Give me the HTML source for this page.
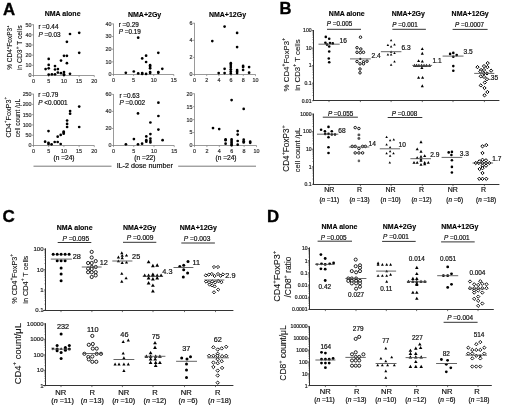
<!DOCTYPE html>
<html><head><meta charset="utf-8"><style>
html,body{margin:0;padding:0;background:#fff;width:520px;height:410px;overflow:hidden}
svg{display:block;will-change:transform;filter:blur(0.35px)}
text{font-family:"Liberation Sans", sans-serif}
</style></head><body>
<svg width="520" height="410" viewBox="0 0 520 410" font-family="Liberation Sans, sans-serif">
<rect width="520" height="410" fill="#fff"/>
<text x="3" y="14.65" font-size="16.8" text-anchor="start" fill="#000" font-weight="bold" stroke="#000" stroke-width="0.35"><tspan>A</tspan></text>
<text x="279.6" y="14.28" font-size="16.6" text-anchor="start" fill="#000" font-weight="bold" stroke="#000" stroke-width="0.35"><tspan>B</tspan></text>
<text x="2.6" y="222.22" font-size="17" text-anchor="start" fill="#000" font-weight="bold" stroke="#000" stroke-width="0.35"><tspan>C</tspan></text>
<text x="267" y="222.25" font-size="16.8" text-anchor="start" fill="#000" font-weight="bold" stroke="#000" stroke-width="0.35"><tspan>D</tspan></text>
<text x="62.6" y="16.42" font-size="7" text-anchor="middle" fill="#000" font-weight="bold" stroke="#000" stroke-width="0.12"><tspan>NMA alone</tspan></text>
<text x="144.6" y="17.12" font-size="7" text-anchor="middle" fill="#000" font-weight="bold" stroke="#000" stroke-width="0.12"><tspan>NMA+2Gy</tspan></text>
<text x="227.5" y="16.82" font-size="7" text-anchor="middle" fill="#000" font-weight="bold" stroke="#000" stroke-width="0.12"><tspan>NMA+12Gy</tspan></text>
<text transform="translate(12.24 47.6) rotate(-90)" x="0" y="0" font-size="6.5" text-anchor="middle" fill="#111" stroke="#111" stroke-width="0.1"><tspan>% CD4</tspan><tspan font-size="4.29" baseline-shift="3.25">+</tspan><tspan>FoxP3</tspan><tspan font-size="4.29" baseline-shift="3.25">+</tspan></text>
<text transform="translate(22.05 47.8) rotate(-90)" x="0" y="0" font-size="6.8" text-anchor="middle" fill="#111" stroke="#111" stroke-width="0.1"><tspan>in CD3</tspan><tspan font-size="4.49" baseline-shift="3.4">+</tspan><tspan> T cells</tspan></text>
<text transform="translate(11.39 117.2) rotate(-90)" x="0" y="0" font-size="7.2" text-anchor="middle" fill="#111" stroke="#111" stroke-width="0.1"><tspan>CD4</tspan><tspan font-size="4.75" baseline-shift="3.6">+</tspan><tspan>FoxP3</tspan><tspan font-size="4.75" baseline-shift="3.6">+</tspan></text>
<text transform="translate(20.04 118) rotate(-90)" x="0" y="0" font-size="6.5" text-anchor="middle" fill="#111" stroke="#111" stroke-width="0.1"><tspan>cell count /μL</tspan></text>
<line x1="33.5" y1="24.3" x2="33.5" y2="76" stroke="#808080" stroke-width="0.8"/>
<line x1="31.9" y1="75.5" x2="33.5" y2="75.5" stroke="#808080" stroke-width="0.7"/>
<text x="31.55" y="77.43" font-size="5.35" text-anchor="end" fill="#333" stroke="#333" stroke-width="0.2"><tspan>0</tspan></text>
<line x1="31.9" y1="65.34" x2="33.5" y2="65.34" stroke="#808080" stroke-width="0.7"/>
<text x="31.55" y="67.27" font-size="5.35" text-anchor="end" fill="#333" stroke="#333" stroke-width="0.2"><tspan>10</tspan></text>
<line x1="31.9" y1="55.18" x2="33.5" y2="55.18" stroke="#808080" stroke-width="0.7"/>
<text x="31.55" y="57.11" font-size="5.35" text-anchor="end" fill="#333" stroke="#333" stroke-width="0.2"><tspan>20</tspan></text>
<line x1="31.9" y1="45.02" x2="33.5" y2="45.02" stroke="#808080" stroke-width="0.7"/>
<text x="31.55" y="46.95" font-size="5.35" text-anchor="end" fill="#333" stroke="#333" stroke-width="0.2"><tspan>30</tspan></text>
<line x1="31.9" y1="34.86" x2="33.5" y2="34.86" stroke="#808080" stroke-width="0.7"/>
<text x="31.55" y="36.79" font-size="5.35" text-anchor="end" fill="#333" stroke="#333" stroke-width="0.2"><tspan>40</tspan></text>
<line x1="31.9" y1="24.7" x2="33.5" y2="24.7" stroke="#808080" stroke-width="0.7"/>
<text x="31.55" y="26.63" font-size="5.35" text-anchor="end" fill="#333" stroke="#333" stroke-width="0.2"><tspan>50</tspan></text>
<line x1="33.1" y1="75.5" x2="94.3" y2="75.5" stroke="#808080" stroke-width="0.8"/>
<line x1="33.5" y1="75.5" x2="33.5" y2="77.1" stroke="#808080" stroke-width="0.7"/>
<text x="33.5" y="82.63" font-size="5.35" text-anchor="middle" fill="#333" stroke="#333" stroke-width="0.2"><tspan>0</tspan></text>
<line x1="48.7" y1="75.5" x2="48.7" y2="77.1" stroke="#808080" stroke-width="0.7"/>
<text x="48.7" y="82.63" font-size="5.35" text-anchor="middle" fill="#333" stroke="#333" stroke-width="0.2"><tspan>5</tspan></text>
<line x1="63.9" y1="75.5" x2="63.9" y2="77.1" stroke="#808080" stroke-width="0.7"/>
<text x="63.9" y="82.63" font-size="5.35" text-anchor="middle" fill="#333" stroke="#333" stroke-width="0.2"><tspan>10</tspan></text>
<line x1="79.1" y1="75.5" x2="79.1" y2="77.1" stroke="#808080" stroke-width="0.7"/>
<text x="79.1" y="82.63" font-size="5.35" text-anchor="middle" fill="#333" stroke="#333" stroke-width="0.2"><tspan>15</tspan></text>
<line x1="94.3" y1="75.5" x2="94.3" y2="77.1" stroke="#808080" stroke-width="0.7"/>
<text x="94.3" y="82.63" font-size="5.35" text-anchor="middle" fill="#333" stroke="#333" stroke-width="0.2"><tspan>20</tspan></text>
<text x="38.4" y="29.3" font-size="6.4" text-anchor="start" fill="#111" stroke="#111" stroke-width="0.2"><tspan>r =0.44</tspan></text>
<text x="38.4" y="36.7" font-size="6.4" text-anchor="start" fill="#111" stroke="#111" stroke-width="0.2"><tspan font-style="italic">P</tspan><tspan> =0.03</tspan></text>
<circle cx="45.6" cy="69.1" r="1.35" fill="#000"/>
<circle cx="48.7" cy="58.9" r="1.35" fill="#000"/>
<circle cx="48.7" cy="64.9" r="1.35" fill="#000"/>
<circle cx="48.7" cy="68.3" r="1.35" fill="#000"/>
<circle cx="48.7" cy="74.6" r="1.35" fill="#000"/>
<circle cx="51.9" cy="74.3" r="1.35" fill="#000"/>
<circle cx="55" cy="66.1" r="1.35" fill="#000"/>
<circle cx="55" cy="69.5" r="1.35" fill="#000"/>
<circle cx="55" cy="74.3" r="1.35" fill="#000"/>
<circle cx="57.9" cy="69.1" r="1.35" fill="#000"/>
<circle cx="57.9" cy="72.6" r="1.35" fill="#000"/>
<circle cx="61" cy="60.6" r="1.35" fill="#000"/>
<circle cx="61" cy="73.2" r="1.35" fill="#000"/>
<circle cx="64" cy="55.8" r="1.35" fill="#000"/>
<circle cx="64" cy="72" r="1.35" fill="#000"/>
<circle cx="64" cy="74.3" r="1.35" fill="#000"/>
<circle cx="64" cy="75" r="1.35" fill="#000"/>
<circle cx="66.9" cy="41.8" r="1.35" fill="#000"/>
<circle cx="66.9" cy="55.8" r="1.35" fill="#000"/>
<circle cx="66.9" cy="63.2" r="1.35" fill="#000"/>
<circle cx="70" cy="34" r="1.35" fill="#000"/>
<circle cx="70" cy="73.8" r="1.35" fill="#000"/>
<circle cx="79.2" cy="32.8" r="1.35" fill="#000"/>
<circle cx="79.2" cy="52.8" r="1.35" fill="#000"/>
<line x1="113.5" y1="23.6" x2="113.5" y2="75" stroke="#808080" stroke-width="0.8"/>
<line x1="111.9" y1="74.5" x2="113.5" y2="74.5" stroke="#808080" stroke-width="0.7"/>
<text x="111.55" y="76.43" font-size="5.35" text-anchor="end" fill="#333" stroke="#333" stroke-width="0.2"><tspan>0</tspan></text>
<line x1="111.9" y1="61.85" x2="113.5" y2="61.85" stroke="#808080" stroke-width="0.7"/>
<text x="111.55" y="63.78" font-size="5.35" text-anchor="end" fill="#333" stroke="#333" stroke-width="0.2"><tspan>10</tspan></text>
<line x1="111.9" y1="49.2" x2="113.5" y2="49.2" stroke="#808080" stroke-width="0.7"/>
<text x="111.55" y="51.13" font-size="5.35" text-anchor="end" fill="#333" stroke="#333" stroke-width="0.2"><tspan>20</tspan></text>
<line x1="111.9" y1="36.55" x2="113.5" y2="36.55" stroke="#808080" stroke-width="0.7"/>
<text x="111.55" y="38.48" font-size="5.35" text-anchor="end" fill="#333" stroke="#333" stroke-width="0.2"><tspan>30</tspan></text>
<line x1="111.9" y1="23.9" x2="113.5" y2="23.9" stroke="#808080" stroke-width="0.7"/>
<text x="111.55" y="25.83" font-size="5.35" text-anchor="end" fill="#333" stroke="#333" stroke-width="0.2"><tspan>40</tspan></text>
<line x1="113.1" y1="74.5" x2="173.9" y2="74.5" stroke="#808080" stroke-width="0.8"/>
<line x1="113.5" y1="74.5" x2="113.5" y2="76.1" stroke="#808080" stroke-width="0.7"/>
<text x="113.5" y="81.63" font-size="5.35" text-anchor="middle" fill="#333" stroke="#333" stroke-width="0.2"><tspan>0</tspan></text>
<line x1="133.6" y1="74.5" x2="133.6" y2="76.1" stroke="#808080" stroke-width="0.7"/>
<text x="133.6" y="81.63" font-size="5.35" text-anchor="middle" fill="#333" stroke="#333" stroke-width="0.2"><tspan>5</tspan></text>
<line x1="153.7" y1="74.5" x2="153.7" y2="76.1" stroke="#808080" stroke-width="0.7"/>
<text x="153.7" y="81.63" font-size="5.35" text-anchor="middle" fill="#333" stroke="#333" stroke-width="0.2"><tspan>10</tspan></text>
<line x1="173.8" y1="74.5" x2="173.8" y2="76.1" stroke="#808080" stroke-width="0.7"/>
<text x="173.8" y="81.63" font-size="5.35" text-anchor="middle" fill="#333" stroke="#333" stroke-width="0.2"><tspan>15</tspan></text>
<text x="118.7" y="26.7" font-size="6.4" text-anchor="start" fill="#111" stroke="#111" stroke-width="0.2"><tspan>r =0.29</tspan></text>
<text x="118.7" y="34.2" font-size="6.4" text-anchor="start" fill="#111" stroke="#111" stroke-width="0.2"><tspan font-style="italic">P</tspan><tspan> =0.19</tspan></text>
<circle cx="125.8" cy="72.8" r="1.35" fill="#000"/>
<circle cx="133.8" cy="71.5" r="1.35" fill="#000"/>
<circle cx="138.2" cy="37.7" r="1.35" fill="#000"/>
<circle cx="138.2" cy="73.4" r="1.35" fill="#000"/>
<circle cx="142.2" cy="58.4" r="1.35" fill="#000"/>
<circle cx="142.2" cy="73.1" r="1.35" fill="#000"/>
<circle cx="142.2" cy="73.9" r="1.35" fill="#000"/>
<circle cx="146.1" cy="55.7" r="1.35" fill="#000"/>
<circle cx="146.1" cy="62" r="1.35" fill="#000"/>
<circle cx="146.1" cy="73.9" r="1.35" fill="#000"/>
<circle cx="150.1" cy="65.2" r="1.35" fill="#000"/>
<circle cx="150.1" cy="66.8" r="1.35" fill="#000"/>
<circle cx="150.1" cy="68.3" r="1.35" fill="#000"/>
<circle cx="150.1" cy="72" r="1.35" fill="#000"/>
<circle cx="150.1" cy="73.1" r="1.35" fill="#000"/>
<circle cx="158.3" cy="52.8" r="1.35" fill="#000"/>
<circle cx="158.3" cy="72" r="1.35" fill="#000"/>
<circle cx="158.3" cy="72.8" r="1.35" fill="#000"/>
<circle cx="162.3" cy="68.8" r="1.35" fill="#000"/>
<line x1="194.5" y1="22.9" x2="194.5" y2="75" stroke="#808080" stroke-width="0.8"/>
<line x1="192.9" y1="74.5" x2="194.5" y2="74.5" stroke="#808080" stroke-width="0.7"/>
<text x="192.55" y="76.43" font-size="5.35" text-anchor="end" fill="#333" stroke="#333" stroke-width="0.2"><tspan>0</tspan></text>
<line x1="192.9" y1="57.4" x2="194.5" y2="57.4" stroke="#808080" stroke-width="0.7"/>
<text x="192.55" y="59.33" font-size="5.35" text-anchor="end" fill="#333" stroke="#333" stroke-width="0.2"><tspan>2</tspan></text>
<line x1="192.9" y1="40.3" x2="194.5" y2="40.3" stroke="#808080" stroke-width="0.7"/>
<text x="192.55" y="42.23" font-size="5.35" text-anchor="end" fill="#333" stroke="#333" stroke-width="0.2"><tspan>4</tspan></text>
<line x1="192.9" y1="23.2" x2="194.5" y2="23.2" stroke="#808080" stroke-width="0.7"/>
<text x="192.55" y="25.13" font-size="5.35" text-anchor="end" fill="#333" stroke="#333" stroke-width="0.2"><tspan>6</tspan></text>
<line x1="194.1" y1="74.5" x2="255.7" y2="74.5" stroke="#808080" stroke-width="0.8"/>
<line x1="194.5" y1="74.5" x2="194.5" y2="76.1" stroke="#808080" stroke-width="0.7"/>
<text x="194.5" y="81.63" font-size="5.35" text-anchor="middle" fill="#333" stroke="#333" stroke-width="0.2"><tspan>0</tspan></text>
<line x1="206.7" y1="74.5" x2="206.7" y2="76.1" stroke="#808080" stroke-width="0.7"/>
<text x="206.7" y="81.63" font-size="5.35" text-anchor="middle" fill="#333" stroke="#333" stroke-width="0.2"><tspan>2</tspan></text>
<line x1="218.9" y1="74.5" x2="218.9" y2="76.1" stroke="#808080" stroke-width="0.7"/>
<text x="218.9" y="81.63" font-size="5.35" text-anchor="middle" fill="#333" stroke="#333" stroke-width="0.2"><tspan>4</tspan></text>
<line x1="231.1" y1="74.5" x2="231.1" y2="76.1" stroke="#808080" stroke-width="0.7"/>
<text x="231.1" y="81.63" font-size="5.35" text-anchor="middle" fill="#333" stroke="#333" stroke-width="0.2"><tspan>6</tspan></text>
<line x1="243.3" y1="74.5" x2="243.3" y2="76.1" stroke="#808080" stroke-width="0.7"/>
<text x="243.3" y="81.63" font-size="5.35" text-anchor="middle" fill="#333" stroke="#333" stroke-width="0.2"><tspan>8</tspan></text>
<line x1="255.5" y1="74.5" x2="255.5" y2="76.1" stroke="#808080" stroke-width="0.7"/>
<text x="255.5" y="81.63" font-size="5.35" text-anchor="middle" fill="#333" stroke="#333" stroke-width="0.2"><tspan>10</tspan></text>
<circle cx="212.3" cy="41.1" r="1.35" fill="#000"/>
<circle cx="218.7" cy="73.1" r="1.35" fill="#000"/>
<circle cx="224.6" cy="26.6" r="1.35" fill="#000"/>
<circle cx="224.6" cy="68.8" r="1.35" fill="#000"/>
<circle cx="224.6" cy="73.1" r="1.35" fill="#000"/>
<circle cx="230.8" cy="63.2" r="1.35" fill="#000"/>
<circle cx="230.8" cy="64.9" r="1.35" fill="#000"/>
<circle cx="230.8" cy="67.1" r="1.35" fill="#000"/>
<circle cx="230.8" cy="69.3" r="1.35" fill="#000"/>
<circle cx="230.8" cy="71.4" r="1.35" fill="#000"/>
<circle cx="230.8" cy="73.4" r="1.35" fill="#000"/>
<circle cx="237.1" cy="32.9" r="1.35" fill="#000"/>
<circle cx="237.1" cy="47.1" r="1.35" fill="#000"/>
<circle cx="237.1" cy="70" r="1.35" fill="#000"/>
<circle cx="237.1" cy="71.4" r="1.35" fill="#000"/>
<circle cx="237.1" cy="73.1" r="1.35" fill="#000"/>
<circle cx="243.1" cy="65.9" r="1.35" fill="#000"/>
<circle cx="243.1" cy="67.1" r="1.35" fill="#000"/>
<circle cx="243.1" cy="70" r="1.35" fill="#000"/>
<circle cx="249.1" cy="67.1" r="1.35" fill="#000"/>
<circle cx="249.1" cy="72.7" r="1.35" fill="#000"/>
<line x1="33.5" y1="93.8" x2="33.5" y2="146" stroke="#808080" stroke-width="0.8"/>
<line x1="31.9" y1="145.5" x2="33.5" y2="145.5" stroke="#808080" stroke-width="0.7"/>
<text x="31.55" y="147.43" font-size="5.35" text-anchor="end" fill="#333" stroke="#333" stroke-width="0.2"><tspan>0</tspan></text>
<line x1="31.9" y1="135.22" x2="33.5" y2="135.22" stroke="#808080" stroke-width="0.7"/>
<text x="31.55" y="137.15" font-size="5.35" text-anchor="end" fill="#333" stroke="#333" stroke-width="0.2"><tspan>50</tspan></text>
<line x1="31.9" y1="124.94" x2="33.5" y2="124.94" stroke="#808080" stroke-width="0.7"/>
<text x="31.55" y="126.87" font-size="5.35" text-anchor="end" fill="#333" stroke="#333" stroke-width="0.2"><tspan>100</tspan></text>
<line x1="31.9" y1="114.66" x2="33.5" y2="114.66" stroke="#808080" stroke-width="0.7"/>
<text x="31.55" y="116.59" font-size="5.35" text-anchor="end" fill="#333" stroke="#333" stroke-width="0.2"><tspan>150</tspan></text>
<line x1="31.9" y1="104.38" x2="33.5" y2="104.38" stroke="#808080" stroke-width="0.7"/>
<text x="31.55" y="106.31" font-size="5.35" text-anchor="end" fill="#333" stroke="#333" stroke-width="0.2"><tspan>200</tspan></text>
<line x1="31.9" y1="94.1" x2="33.5" y2="94.1" stroke="#808080" stroke-width="0.7"/>
<text x="31.55" y="96.03" font-size="5.35" text-anchor="end" fill="#333" stroke="#333" stroke-width="0.2"><tspan>250</tspan></text>
<line x1="33.1" y1="145.5" x2="94.3" y2="145.5" stroke="#808080" stroke-width="0.8"/>
<line x1="33.5" y1="145.5" x2="33.5" y2="147.1" stroke="#808080" stroke-width="0.7"/>
<text x="33.5" y="152.63" font-size="5.35" text-anchor="middle" fill="#333" stroke="#333" stroke-width="0.2"><tspan>0</tspan></text>
<line x1="48.7" y1="145.5" x2="48.7" y2="147.1" stroke="#808080" stroke-width="0.7"/>
<text x="48.7" y="152.63" font-size="5.35" text-anchor="middle" fill="#333" stroke="#333" stroke-width="0.2"><tspan>5</tspan></text>
<line x1="63.9" y1="145.5" x2="63.9" y2="147.1" stroke="#808080" stroke-width="0.7"/>
<text x="63.9" y="152.63" font-size="5.35" text-anchor="middle" fill="#333" stroke="#333" stroke-width="0.2"><tspan>10</tspan></text>
<line x1="79.1" y1="145.5" x2="79.1" y2="147.1" stroke="#808080" stroke-width="0.7"/>
<text x="79.1" y="152.63" font-size="5.35" text-anchor="middle" fill="#333" stroke="#333" stroke-width="0.2"><tspan>15</tspan></text>
<line x1="94.3" y1="145.5" x2="94.3" y2="147.1" stroke="#808080" stroke-width="0.7"/>
<text x="94.3" y="152.63" font-size="5.35" text-anchor="middle" fill="#333" stroke="#333" stroke-width="0.2"><tspan>20</tspan></text>
<text x="38.3" y="97.3" font-size="6.4" text-anchor="start" fill="#111" stroke="#111" stroke-width="0.2"><tspan>r =0.79</tspan></text>
<text x="38.3" y="105" font-size="6.4" text-anchor="start" fill="#111" stroke="#111" stroke-width="0.2"><tspan font-style="italic">P</tspan><tspan> &lt;0.0001</tspan></text>
<circle cx="45.1" cy="141.7" r="1.35" fill="#000"/>
<circle cx="48.5" cy="131.1" r="1.35" fill="#000"/>
<circle cx="48.5" cy="142.8" r="1.35" fill="#000"/>
<circle cx="48.5" cy="144" r="1.35" fill="#000"/>
<circle cx="51.6" cy="144.3" r="1.35" fill="#000"/>
<circle cx="54.7" cy="142" r="1.35" fill="#000"/>
<circle cx="57.7" cy="142" r="1.35" fill="#000"/>
<circle cx="57.7" cy="136.7" r="1.35" fill="#000"/>
<circle cx="60.7" cy="134.9" r="1.35" fill="#000"/>
<circle cx="60.7" cy="144" r="1.35" fill="#000"/>
<circle cx="63.7" cy="131.6" r="1.35" fill="#000"/>
<circle cx="63.7" cy="132.6" r="1.35" fill="#000"/>
<circle cx="63.7" cy="133.7" r="1.35" fill="#000"/>
<circle cx="67.1" cy="120.5" r="1.35" fill="#000"/>
<circle cx="67.1" cy="123.9" r="1.35" fill="#000"/>
<circle cx="67.1" cy="127" r="1.35" fill="#000"/>
<circle cx="70.1" cy="111" r="1.35" fill="#000"/>
<circle cx="70.1" cy="113.7" r="1.35" fill="#000"/>
<circle cx="79.2" cy="106.6" r="1.35" fill="#000"/>
<circle cx="79.2" cy="127" r="1.35" fill="#000"/>
<text x="64" y="159.78" font-size="6.6" text-anchor="middle" fill="#111" stroke="#111" stroke-width="0.2"><tspan>(n =24)</tspan></text>
<line x1="113.5" y1="94.1" x2="113.5" y2="146" stroke="#808080" stroke-width="0.8"/>
<line x1="111.9" y1="145.5" x2="113.5" y2="145.5" stroke="#808080" stroke-width="0.7"/>
<text x="111.55" y="147.43" font-size="5.35" text-anchor="end" fill="#333" stroke="#333" stroke-width="0.2"><tspan>0</tspan></text>
<line x1="111.9" y1="128.47" x2="113.5" y2="128.47" stroke="#808080" stroke-width="0.7"/>
<text x="111.55" y="130.39" font-size="5.35" text-anchor="end" fill="#333" stroke="#333" stroke-width="0.2"><tspan>20</tspan></text>
<line x1="111.9" y1="111.43" x2="113.5" y2="111.43" stroke="#808080" stroke-width="0.7"/>
<text x="111.55" y="113.36" font-size="5.35" text-anchor="end" fill="#333" stroke="#333" stroke-width="0.2"><tspan>40</tspan></text>
<line x1="111.9" y1="94.4" x2="113.5" y2="94.4" stroke="#808080" stroke-width="0.7"/>
<text x="111.55" y="96.32" font-size="5.35" text-anchor="end" fill="#333" stroke="#333" stroke-width="0.2"><tspan>60</tspan></text>
<line x1="113.1" y1="145.5" x2="174.2" y2="145.5" stroke="#808080" stroke-width="0.8"/>
<line x1="113.5" y1="145.5" x2="113.5" y2="147.1" stroke="#808080" stroke-width="0.7"/>
<text x="113.5" y="152.63" font-size="5.35" text-anchor="middle" fill="#333" stroke="#333" stroke-width="0.2"><tspan>0</tspan></text>
<line x1="133.75" y1="145.5" x2="133.75" y2="147.1" stroke="#808080" stroke-width="0.7"/>
<text x="133.75" y="152.63" font-size="5.35" text-anchor="middle" fill="#333" stroke="#333" stroke-width="0.2"><tspan>5</tspan></text>
<line x1="154" y1="145.5" x2="154" y2="147.1" stroke="#808080" stroke-width="0.7"/>
<text x="154" y="152.63" font-size="5.35" text-anchor="middle" fill="#333" stroke="#333" stroke-width="0.2"><tspan>10</tspan></text>
<line x1="174.25" y1="145.5" x2="174.25" y2="147.1" stroke="#808080" stroke-width="0.7"/>
<text x="174.25" y="152.63" font-size="5.35" text-anchor="middle" fill="#333" stroke="#333" stroke-width="0.2"><tspan>15</tspan></text>
<text x="119.4" y="97.6" font-size="6.4" text-anchor="start" fill="#111" stroke="#111" stroke-width="0.2"><tspan>r =0.63</tspan></text>
<text x="119.4" y="105.4" font-size="6.4" text-anchor="start" fill="#111" stroke="#111" stroke-width="0.2"><tspan font-style="italic">P</tspan><tspan> =0.002</tspan></text>
<circle cx="125.9" cy="144.3" r="1.35" fill="#000"/>
<circle cx="133.9" cy="139.1" r="1.35" fill="#000"/>
<circle cx="138" cy="113.4" r="1.35" fill="#000"/>
<circle cx="138" cy="144.3" r="1.35" fill="#000"/>
<circle cx="142.1" cy="143.7" r="1.35" fill="#000"/>
<circle cx="146.3" cy="136.4" r="1.35" fill="#000"/>
<circle cx="146.3" cy="140.2" r="1.35" fill="#000"/>
<circle cx="146.3" cy="141.7" r="1.35" fill="#000"/>
<circle cx="150.4" cy="122.5" r="1.35" fill="#000"/>
<circle cx="150.4" cy="134.1" r="1.35" fill="#000"/>
<circle cx="150.4" cy="138.7" r="1.35" fill="#000"/>
<circle cx="150.4" cy="141" r="1.35" fill="#000"/>
<circle cx="150.4" cy="142.5" r="1.35" fill="#000"/>
<circle cx="158.4" cy="102.7" r="1.35" fill="#000"/>
<circle cx="158.4" cy="116" r="1.35" fill="#000"/>
<circle cx="158.4" cy="129.6" r="1.35" fill="#000"/>
<circle cx="162.6" cy="140.2" r="1.35" fill="#000"/>
<text x="144.9" y="159.78" font-size="6.6" text-anchor="middle" fill="#111" stroke="#111" stroke-width="0.2"><tspan>(n =22)</tspan></text>
<line x1="194.5" y1="93.4" x2="194.5" y2="146" stroke="#808080" stroke-width="0.8"/>
<line x1="192.9" y1="145.5" x2="194.5" y2="145.5" stroke="#808080" stroke-width="0.7"/>
<text x="192.55" y="147.43" font-size="5.35" text-anchor="end" fill="#333" stroke="#333" stroke-width="0.2"><tspan>0</tspan></text>
<line x1="192.9" y1="132.55" x2="194.5" y2="132.55" stroke="#808080" stroke-width="0.7"/>
<text x="192.55" y="134.48" font-size="5.35" text-anchor="end" fill="#333" stroke="#333" stroke-width="0.2"><tspan>5</tspan></text>
<line x1="192.9" y1="119.6" x2="194.5" y2="119.6" stroke="#808080" stroke-width="0.7"/>
<text x="192.55" y="121.53" font-size="5.35" text-anchor="end" fill="#333" stroke="#333" stroke-width="0.2"><tspan>10</tspan></text>
<line x1="192.9" y1="106.65" x2="194.5" y2="106.65" stroke="#808080" stroke-width="0.7"/>
<text x="192.55" y="108.58" font-size="5.35" text-anchor="end" fill="#333" stroke="#333" stroke-width="0.2"><tspan>15</tspan></text>
<line x1="192.9" y1="93.7" x2="194.5" y2="93.7" stroke="#808080" stroke-width="0.7"/>
<text x="192.55" y="95.63" font-size="5.35" text-anchor="end" fill="#333" stroke="#333" stroke-width="0.2"><tspan>20</tspan></text>
<line x1="194.1" y1="145.5" x2="256.6" y2="145.5" stroke="#808080" stroke-width="0.8"/>
<line x1="194.5" y1="145.5" x2="194.5" y2="147.1" stroke="#808080" stroke-width="0.7"/>
<text x="194.5" y="152.63" font-size="5.35" text-anchor="middle" fill="#333" stroke="#333" stroke-width="0.2"><tspan>0</tspan></text>
<line x1="206.9" y1="145.5" x2="206.9" y2="147.1" stroke="#808080" stroke-width="0.7"/>
<text x="206.9" y="152.63" font-size="5.35" text-anchor="middle" fill="#333" stroke="#333" stroke-width="0.2"><tspan>2</tspan></text>
<line x1="219.3" y1="145.5" x2="219.3" y2="147.1" stroke="#808080" stroke-width="0.7"/>
<text x="219.3" y="152.63" font-size="5.35" text-anchor="middle" fill="#333" stroke="#333" stroke-width="0.2"><tspan>4</tspan></text>
<line x1="231.7" y1="145.5" x2="231.7" y2="147.1" stroke="#808080" stroke-width="0.7"/>
<text x="231.7" y="152.63" font-size="5.35" text-anchor="middle" fill="#333" stroke="#333" stroke-width="0.2"><tspan>6</tspan></text>
<line x1="244.1" y1="145.5" x2="244.1" y2="147.1" stroke="#808080" stroke-width="0.7"/>
<text x="244.1" y="152.63" font-size="5.35" text-anchor="middle" fill="#333" stroke="#333" stroke-width="0.2"><tspan>8</tspan></text>
<line x1="256.5" y1="145.5" x2="256.5" y2="147.1" stroke="#808080" stroke-width="0.7"/>
<text x="256.5" y="152.63" font-size="5.35" text-anchor="middle" fill="#333" stroke="#333" stroke-width="0.2"><tspan>10</tspan></text>
<circle cx="213" cy="128.1" r="1.35" fill="#000"/>
<circle cx="219.2" cy="129.1" r="1.35" fill="#000"/>
<circle cx="225.6" cy="139.4" r="1.35" fill="#000"/>
<circle cx="225.6" cy="140.2" r="1.35" fill="#000"/>
<circle cx="225.6" cy="143.7" r="1.35" fill="#000"/>
<circle cx="231.6" cy="100.1" r="1.35" fill="#000"/>
<circle cx="231.6" cy="139.4" r="1.35" fill="#000"/>
<circle cx="231.6" cy="141" r="1.35" fill="#000"/>
<circle cx="231.6" cy="142.5" r="1.35" fill="#000"/>
<circle cx="231.6" cy="144" r="1.35" fill="#000"/>
<circle cx="231.6" cy="145.2" r="1.35" fill="#000"/>
<circle cx="237.7" cy="131.1" r="1.35" fill="#000"/>
<circle cx="237.7" cy="134.6" r="1.35" fill="#000"/>
<circle cx="237.7" cy="141" r="1.35" fill="#000"/>
<circle cx="237.7" cy="144.7" r="1.35" fill="#000"/>
<circle cx="243.7" cy="108.9" r="1.35" fill="#000"/>
<circle cx="243.7" cy="139.7" r="1.35" fill="#000"/>
<circle cx="243.7" cy="141.3" r="1.35" fill="#000"/>
<circle cx="243.7" cy="142.5" r="1.35" fill="#000"/>
<circle cx="250.2" cy="141.7" r="1.35" fill="#000"/>
<circle cx="250.2" cy="142.8" r="1.35" fill="#000"/>
<text x="226" y="159.78" font-size="6.6" text-anchor="middle" fill="#111" stroke="#111" stroke-width="0.2"><tspan>(n =24)</tspan></text>
<text x="144.8" y="168.39" font-size="7.2" text-anchor="middle" fill="#111" stroke="#111" stroke-width="0.2"><tspan>IL-2 dose number</tspan></text>
<line x1="33.5" y1="166.2" x2="111.5" y2="166.2" stroke="#555" stroke-width="0.8"/>
<line x1="178.2" y1="166.2" x2="256" y2="166.2" stroke="#555" stroke-width="0.8"/>
<text x="346.8" y="16.32" font-size="7" text-anchor="middle" fill="#000" font-weight="bold" stroke="#000" stroke-width="0.12"><tspan>NMA alone</tspan></text>
<text x="408.3" y="16.42" font-size="7" text-anchor="middle" fill="#000" font-weight="bold" stroke="#000" stroke-width="0.12"><tspan>NMA+2Gy</tspan></text>
<text x="470.2" y="16.42" font-size="7" text-anchor="middle" fill="#000" font-weight="bold" stroke="#000" stroke-width="0.12"><tspan>NMA+12Gy</tspan></text>
<text transform="translate(288.63 64.6) rotate(-90)" x="0" y="0" font-size="7.85" text-anchor="middle" fill="#111" stroke="#111" stroke-width="0.1"><tspan>% CD4</tspan><tspan font-size="5.18" baseline-shift="3.92">+</tspan><tspan>FoxP3</tspan><tspan font-size="5.18" baseline-shift="3.92">+</tspan></text>
<text transform="translate(300.23 65) rotate(-90)" x="0" y="0" font-size="7.85" text-anchor="middle" fill="#111" stroke="#111" stroke-width="0.1"><tspan>in CD3</tspan><tspan font-size="5.18" baseline-shift="3.92">+</tspan><tspan> T cells</tspan></text>
<text transform="translate(289.35 148.5) rotate(-90)" x="0" y="0" font-size="8.2" text-anchor="middle" fill="#111" stroke="#111" stroke-width="0.1"><tspan>CD4</tspan><tspan font-size="5.41" baseline-shift="4.1">+</tspan><tspan>FoxP3</tspan><tspan font-size="5.41" baseline-shift="4.1">+</tspan></text>
<text transform="translate(299.5 150) rotate(-90)" x="0" y="0" font-size="7.5" text-anchor="middle" fill="#111" stroke="#111" stroke-width="0.1"><tspan>cell count /μL</tspan></text>
<line x1="313.5" y1="30" x2="313.5" y2="101" stroke="#333" stroke-width="1"/>
<line x1="311.9" y1="100.7" x2="313.5" y2="100.7" stroke="#333" stroke-width="0.7"/>
<text x="311.55" y="102.54" font-size="5.1" text-anchor="end" fill="#222" stroke="#222" stroke-width="0.2"><tspan>0.01</tspan></text>
<line x1="311.9" y1="83.15" x2="313.5" y2="83.15" stroke="#333" stroke-width="0.7"/>
<text x="311.55" y="84.99" font-size="5.1" text-anchor="end" fill="#222" stroke="#222" stroke-width="0.2"><tspan>0.1</tspan></text>
<line x1="311.9" y1="65.6" x2="313.5" y2="65.6" stroke="#333" stroke-width="0.7"/>
<text x="311.55" y="67.44" font-size="5.1" text-anchor="end" fill="#222" stroke="#222" stroke-width="0.2"><tspan>1</tspan></text>
<line x1="311.9" y1="48.05" x2="313.5" y2="48.05" stroke="#333" stroke-width="0.7"/>
<text x="311.55" y="49.89" font-size="5.1" text-anchor="end" fill="#222" stroke="#222" stroke-width="0.2"><tspan>10</tspan></text>
<line x1="311.9" y1="30.5" x2="313.5" y2="30.5" stroke="#333" stroke-width="0.7"/>
<text x="311.55" y="32.34" font-size="5.1" text-anchor="end" fill="#222" stroke="#222" stroke-width="0.2"><tspan>100</tspan></text>
<line x1="312.4" y1="95.42" x2="313.5" y2="95.42" stroke="#333" stroke-width="0.5"/>
<line x1="312.4" y1="92.33" x2="313.5" y2="92.33" stroke="#333" stroke-width="0.5"/>
<line x1="312.4" y1="90.13" x2="313.5" y2="90.13" stroke="#333" stroke-width="0.5"/>
<line x1="312.4" y1="88.43" x2="313.5" y2="88.43" stroke="#333" stroke-width="0.5"/>
<line x1="312.4" y1="87.04" x2="313.5" y2="87.04" stroke="#333" stroke-width="0.5"/>
<line x1="312.4" y1="85.87" x2="313.5" y2="85.87" stroke="#333" stroke-width="0.5"/>
<line x1="312.4" y1="84.85" x2="313.5" y2="84.85" stroke="#333" stroke-width="0.5"/>
<line x1="312.4" y1="83.95" x2="313.5" y2="83.95" stroke="#333" stroke-width="0.5"/>
<line x1="312.4" y1="77.87" x2="313.5" y2="77.87" stroke="#333" stroke-width="0.5"/>
<line x1="312.4" y1="74.78" x2="313.5" y2="74.78" stroke="#333" stroke-width="0.5"/>
<line x1="312.4" y1="72.58" x2="313.5" y2="72.58" stroke="#333" stroke-width="0.5"/>
<line x1="312.4" y1="70.88" x2="313.5" y2="70.88" stroke="#333" stroke-width="0.5"/>
<line x1="312.4" y1="69.49" x2="313.5" y2="69.49" stroke="#333" stroke-width="0.5"/>
<line x1="312.4" y1="68.32" x2="313.5" y2="68.32" stroke="#333" stroke-width="0.5"/>
<line x1="312.4" y1="67.3" x2="313.5" y2="67.3" stroke="#333" stroke-width="0.5"/>
<line x1="312.4" y1="66.4" x2="313.5" y2="66.4" stroke="#333" stroke-width="0.5"/>
<line x1="312.4" y1="60.32" x2="313.5" y2="60.32" stroke="#333" stroke-width="0.5"/>
<line x1="312.4" y1="57.23" x2="313.5" y2="57.23" stroke="#333" stroke-width="0.5"/>
<line x1="312.4" y1="55.03" x2="313.5" y2="55.03" stroke="#333" stroke-width="0.5"/>
<line x1="312.4" y1="53.33" x2="313.5" y2="53.33" stroke="#333" stroke-width="0.5"/>
<line x1="312.4" y1="51.94" x2="313.5" y2="51.94" stroke="#333" stroke-width="0.5"/>
<line x1="312.4" y1="50.77" x2="313.5" y2="50.77" stroke="#333" stroke-width="0.5"/>
<line x1="312.4" y1="49.75" x2="313.5" y2="49.75" stroke="#333" stroke-width="0.5"/>
<line x1="312.4" y1="48.85" x2="313.5" y2="48.85" stroke="#333" stroke-width="0.5"/>
<line x1="312.4" y1="42.77" x2="313.5" y2="42.77" stroke="#333" stroke-width="0.5"/>
<line x1="312.4" y1="39.68" x2="313.5" y2="39.68" stroke="#333" stroke-width="0.5"/>
<line x1="312.4" y1="37.48" x2="313.5" y2="37.48" stroke="#333" stroke-width="0.5"/>
<line x1="312.4" y1="35.78" x2="313.5" y2="35.78" stroke="#333" stroke-width="0.5"/>
<line x1="312.4" y1="34.39" x2="313.5" y2="34.39" stroke="#333" stroke-width="0.5"/>
<line x1="312.4" y1="33.22" x2="313.5" y2="33.22" stroke="#333" stroke-width="0.5"/>
<line x1="312.4" y1="32.2" x2="313.5" y2="32.2" stroke="#333" stroke-width="0.5"/>
<line x1="312.4" y1="31.3" x2="313.5" y2="31.3" stroke="#333" stroke-width="0.5"/>
<line x1="313.1" y1="100.5" x2="499.4" y2="100.5" stroke="#333" stroke-width="1"/>
<line x1="329" y1="100.5" x2="329" y2="102.1" stroke="#333" stroke-width="0.7"/>
<line x1="360.4" y1="100.5" x2="360.4" y2="102.1" stroke="#333" stroke-width="0.7"/>
<line x1="391.1" y1="100.5" x2="391.1" y2="102.1" stroke="#333" stroke-width="0.7"/>
<line x1="422.3" y1="100.5" x2="422.3" y2="102.1" stroke="#333" stroke-width="0.7"/>
<line x1="453" y1="100.5" x2="453" y2="102.1" stroke="#333" stroke-width="0.7"/>
<line x1="484.4" y1="100.5" x2="484.4" y2="102.1" stroke="#333" stroke-width="0.7"/>
<text x="339.5" y="26.17" font-size="6.3" text-anchor="middle" fill="#111" stroke="#111" stroke-width="0.2"><tspan font-style="italic">P</tspan><tspan> =0.005</tspan></text>
<line x1="327" y1="29.3" x2="361" y2="29.3" stroke="#333" stroke-width="1"/>
<text x="405" y="26.67" font-size="6.3" text-anchor="middle" fill="#111" stroke="#111" stroke-width="0.2"><tspan font-style="italic">P</tspan><tspan> =0.001</tspan></text>
<line x1="392.4" y1="29.3" x2="425.9" y2="29.3" stroke="#333" stroke-width="1"/>
<text x="469.5" y="26.67" font-size="6.3" text-anchor="middle" fill="#111" stroke="#111" stroke-width="0.2"><tspan font-style="italic">P</tspan><tspan> =0.0007</tspan></text>
<line x1="452.6" y1="29.4" x2="487.6" y2="29.4" stroke="#333" stroke-width="1"/>
<circle cx="325.8" cy="36.9" r="1.3" fill="#000"/>
<circle cx="329.2" cy="38.8" r="1.3" fill="#000"/>
<circle cx="325.4" cy="42.8" r="1.3" fill="#000"/>
<circle cx="330" cy="43" r="1.3" fill="#000"/>
<circle cx="332.8" cy="43.4" r="1.3" fill="#000"/>
<circle cx="327" cy="44.6" r="1.3" fill="#000"/>
<circle cx="329.2" cy="46.5" r="1.3" fill="#000"/>
<circle cx="329.2" cy="51.5" r="1.3" fill="#000"/>
<circle cx="328.8" cy="58.5" r="1.3" fill="#000"/>
<circle cx="329.2" cy="62.3" r="1.3" fill="#000"/>
<line x1="318.5" y1="44.2" x2="339.7" y2="44.2" stroke="#555" stroke-width="0.9"/>
<text x="339.6" y="42.88" font-size="6.6" text-anchor="start" fill="#111" stroke="#111" stroke-width="0.2"><tspan>16</tspan></text>
<circle cx="360.5" cy="37.2" r="1.25" fill="#fff" stroke="#000" stroke-width="0.9"/>
<circle cx="357" cy="47.7" r="1.25" fill="#fff" stroke="#000" stroke-width="0.9"/>
<circle cx="360.8" cy="49" r="1.25" fill="#fff" stroke="#000" stroke-width="0.9"/>
<circle cx="357" cy="52.3" r="1.25" fill="#fff" stroke="#000" stroke-width="0.9"/>
<circle cx="360.3" cy="52.6" r="1.25" fill="#fff" stroke="#000" stroke-width="0.9"/>
<circle cx="363.5" cy="52.3" r="1.25" fill="#fff" stroke="#000" stroke-width="0.9"/>
<circle cx="357" cy="61.5" r="1.25" fill="#fff" stroke="#000" stroke-width="0.9"/>
<circle cx="363.5" cy="61.8" r="1.25" fill="#fff" stroke="#000" stroke-width="0.9"/>
<circle cx="367" cy="61.2" r="1.25" fill="#fff" stroke="#000" stroke-width="0.9"/>
<circle cx="360" cy="63.8" r="1.25" fill="#fff" stroke="#000" stroke-width="0.9"/>
<circle cx="363.5" cy="63.8" r="1.25" fill="#fff" stroke="#000" stroke-width="0.9"/>
<circle cx="360" cy="69" r="1.25" fill="#fff" stroke="#000" stroke-width="0.9"/>
<circle cx="360" cy="72.8" r="1.25" fill="#fff" stroke="#000" stroke-width="0.9"/>
<circle cx="360.3" cy="58.9" r="1.1" fill="#000"/>
<line x1="350" y1="58.9" x2="370.8" y2="58.9" stroke="#555" stroke-width="0.9"/>
<text x="371.6" y="57.88" font-size="6.6" text-anchor="start" fill="#111" stroke="#111" stroke-width="0.2"><tspan>2.4</tspan></text>
<path d="M391.1 38.95L392.35 41.2L389.85 41.2Z" fill="#000"/>
<path d="M387.9 43.85L389.15 46.1L386.65 46.1Z" fill="#000"/>
<path d="M391.1 45.25L392.35 47.5L389.85 47.5Z" fill="#000"/>
<path d="M394.5 43.35L395.75 45.6L393.25 45.6Z" fill="#000"/>
<path d="M391.1 50.45L392.35 52.7L389.85 52.7Z" fill="#000"/>
<path d="M387.9 53.35L389.15 55.6L386.65 55.6Z" fill="#000"/>
<path d="M391.1 53.35L392.35 55.6L389.85 55.6Z" fill="#000"/>
<path d="M394.5 51.85L395.75 54.1L393.25 54.1Z" fill="#000"/>
<path d="M394.5 60.25L395.75 62.5L393.25 62.5Z" fill="#000"/>
<path d="M391.1 63.45L392.35 65.7L389.85 65.7Z" fill="#000"/>
<line x1="380.9" y1="51.7" x2="401.4" y2="51.7" stroke="#555" stroke-width="0.9"/>
<text x="401.4" y="50.28" font-size="6.6" text-anchor="start" fill="#111" stroke="#111" stroke-width="0.2"><tspan>6.3</tspan></text>
<path d="M422.3 47.15L423.85 49.94L420.75 49.94Z" fill="#000"/>
<path d="M422.3 51.85L423.85 54.64L420.75 54.64Z" fill="#000"/>
<path d="M418.6 59.15L420.15 61.94L417.05 61.94Z" fill="#000"/>
<path d="M422.3 59.65L423.85 62.44L420.75 62.44Z" fill="#000"/>
<path d="M414.5 63.85L416.05 66.64L412.95 66.64Z" fill="#000"/>
<path d="M416.6 63.85L418.15 66.64L415.05 66.64Z" fill="#000"/>
<path d="M418.9 63.85L420.45 66.64L417.35 66.64Z" fill="#000"/>
<path d="M421.6 63.85L423.15 66.64L420.05 66.64Z" fill="#000"/>
<path d="M424 63.85L425.55 66.64L422.45 66.64Z" fill="#000"/>
<path d="M426.5 63.85L428.05 66.64L424.95 66.64Z" fill="#000"/>
<path d="M429.5 63.85L431.05 66.64L427.95 66.64Z" fill="#000"/>
<path d="M421.9 66.25L423.45 69.04L420.35 69.04Z" fill="#000"/>
<path d="M418.6 76.05L420.15 78.84L417.05 78.84Z" fill="#000"/>
<path d="M422.6 76.05L424.15 78.84L421.05 78.84Z" fill="#000"/>
<path d="M422.3 84.35L423.85 87.14L420.75 87.14Z" fill="#000"/>
<line x1="412.3" y1="65.4" x2="432.1" y2="65.4" stroke="#555" stroke-width="0.9"/>
<text x="432.4" y="63.38" font-size="6.6" text-anchor="start" fill="#111" stroke="#111" stroke-width="0.2"><tspan>1.1</tspan></text>
<circle cx="450.1" cy="53.9" r="1.3" fill="#000"/>
<circle cx="453.3" cy="52.9" r="1.3" fill="#000"/>
<circle cx="456.7" cy="55.1" r="1.3" fill="#000"/>
<circle cx="453.3" cy="56.8" r="1.3" fill="#000"/>
<circle cx="453.3" cy="66.1" r="1.3" fill="#000"/>
<circle cx="453.3" cy="70.7" r="1.3" fill="#000"/>
<line x1="442.6" y1="56.1" x2="463.5" y2="56.1" stroke="#555" stroke-width="0.9"/>
<text x="463.5" y="54.38" font-size="6.6" text-anchor="start" fill="#111" stroke="#111" stroke-width="0.2"><tspan>3.5</tspan></text>
<path d="M477.5 65.45L479.15 67.1L477.5 68.75L475.85 67.1Z" fill="#fff" stroke="#000" stroke-width="1"/>
<path d="M484 64.45L485.65 66.1L484 67.75L482.35 66.1Z" fill="#fff" stroke="#000" stroke-width="1"/>
<path d="M487.7 61.45L489.35 63.1L487.7 64.75L486.05 63.1Z" fill="#fff" stroke="#000" stroke-width="1"/>
<path d="M487.4 65.45L489.05 67.1L487.4 68.75L485.75 67.1Z" fill="#fff" stroke="#000" stroke-width="1"/>
<path d="M481.1 68.35L482.75 70L481.1 71.65L479.45 70Z" fill="#fff" stroke="#000" stroke-width="1"/>
<path d="M484 68.35L485.65 70L484 71.65L482.35 70Z" fill="#fff" stroke="#000" stroke-width="1"/>
<path d="M480.4 69.85L482.05 71.5L480.4 73.15L478.75 71.5Z" fill="#fff" stroke="#000" stroke-width="1"/>
<path d="M491.1 69.05L492.75 70.7L491.1 72.35L489.45 70.7Z" fill="#fff" stroke="#000" stroke-width="1"/>
<path d="M483.8 71.75L485.45 73.4L483.8 75.05L482.15 73.4Z" fill="#fff" stroke="#000" stroke-width="1"/>
<path d="M487 71.75L488.65 73.4L487 75.05L485.35 73.4Z" fill="#fff" stroke="#000" stroke-width="1"/>
<path d="M480.8 74.65L482.45 76.3L480.8 77.95L479.15 76.3Z" fill="#fff" stroke="#000" stroke-width="1"/>
<path d="M484 75.25L485.65 76.9L484 78.55L482.35 76.9Z" fill="#fff" stroke="#000" stroke-width="1"/>
<path d="M487 77.55L488.65 79.2L487 80.85L485.35 79.2Z" fill="#fff" stroke="#000" stroke-width="1"/>
<path d="M484.8 80.85L486.45 82.5L484.8 84.15L483.15 82.5Z" fill="#fff" stroke="#000" stroke-width="1"/>
<path d="M480.8 83.75L482.45 85.4L480.8 87.05L479.15 85.4Z" fill="#fff" stroke="#000" stroke-width="1"/>
<path d="M484.5 86.35L486.15 88L484.5 89.65L482.85 88Z" fill="#fff" stroke="#000" stroke-width="1"/>
<path d="M487.4 90.35L489.05 92L487.4 93.65L485.75 92Z" fill="#fff" stroke="#000" stroke-width="1"/>
<path d="M484.5 93.65L486.15 95.3L484.5 96.95L482.85 95.3Z" fill="#fff" stroke="#000" stroke-width="1"/>
<line x1="474.2" y1="73.4" x2="494.3" y2="73.4" stroke="#555" stroke-width="0.9"/>
<text x="489" y="80.48" font-size="6.6" text-anchor="start" fill="#111" stroke="#111" stroke-width="0.2"><tspan>.35</tspan></text>
<line x1="313.5" y1="113.6" x2="313.5" y2="185" stroke="#333" stroke-width="1"/>
<line x1="311.9" y1="184.3" x2="313.5" y2="184.3" stroke="#333" stroke-width="0.7"/>
<text x="311.55" y="186.14" font-size="5.1" text-anchor="end" fill="#222" stroke="#222" stroke-width="0.2"><tspan>0.1</tspan></text>
<line x1="311.9" y1="166.75" x2="313.5" y2="166.75" stroke="#333" stroke-width="0.7"/>
<text x="311.55" y="168.59" font-size="5.1" text-anchor="end" fill="#222" stroke="#222" stroke-width="0.2"><tspan>1</tspan></text>
<line x1="311.9" y1="149.2" x2="313.5" y2="149.2" stroke="#333" stroke-width="0.7"/>
<text x="311.55" y="151.04" font-size="5.1" text-anchor="end" fill="#222" stroke="#222" stroke-width="0.2"><tspan>10</tspan></text>
<line x1="311.9" y1="131.65" x2="313.5" y2="131.65" stroke="#333" stroke-width="0.7"/>
<text x="311.55" y="133.49" font-size="5.1" text-anchor="end" fill="#222" stroke="#222" stroke-width="0.2"><tspan>100</tspan></text>
<line x1="311.9" y1="114.1" x2="313.5" y2="114.1" stroke="#333" stroke-width="0.7"/>
<text x="311.55" y="115.94" font-size="5.1" text-anchor="end" fill="#222" stroke="#222" stroke-width="0.2"><tspan>1000</tspan></text>
<line x1="312.4" y1="179.02" x2="313.5" y2="179.02" stroke="#333" stroke-width="0.5"/>
<line x1="312.4" y1="175.93" x2="313.5" y2="175.93" stroke="#333" stroke-width="0.5"/>
<line x1="312.4" y1="173.73" x2="313.5" y2="173.73" stroke="#333" stroke-width="0.5"/>
<line x1="312.4" y1="172.03" x2="313.5" y2="172.03" stroke="#333" stroke-width="0.5"/>
<line x1="312.4" y1="170.64" x2="313.5" y2="170.64" stroke="#333" stroke-width="0.5"/>
<line x1="312.4" y1="169.47" x2="313.5" y2="169.47" stroke="#333" stroke-width="0.5"/>
<line x1="312.4" y1="168.45" x2="313.5" y2="168.45" stroke="#333" stroke-width="0.5"/>
<line x1="312.4" y1="167.55" x2="313.5" y2="167.55" stroke="#333" stroke-width="0.5"/>
<line x1="312.4" y1="161.47" x2="313.5" y2="161.47" stroke="#333" stroke-width="0.5"/>
<line x1="312.4" y1="158.38" x2="313.5" y2="158.38" stroke="#333" stroke-width="0.5"/>
<line x1="312.4" y1="156.18" x2="313.5" y2="156.18" stroke="#333" stroke-width="0.5"/>
<line x1="312.4" y1="154.48" x2="313.5" y2="154.48" stroke="#333" stroke-width="0.5"/>
<line x1="312.4" y1="153.09" x2="313.5" y2="153.09" stroke="#333" stroke-width="0.5"/>
<line x1="312.4" y1="151.92" x2="313.5" y2="151.92" stroke="#333" stroke-width="0.5"/>
<line x1="312.4" y1="150.9" x2="313.5" y2="150.9" stroke="#333" stroke-width="0.5"/>
<line x1="312.4" y1="150" x2="313.5" y2="150" stroke="#333" stroke-width="0.5"/>
<line x1="312.4" y1="143.92" x2="313.5" y2="143.92" stroke="#333" stroke-width="0.5"/>
<line x1="312.4" y1="140.83" x2="313.5" y2="140.83" stroke="#333" stroke-width="0.5"/>
<line x1="312.4" y1="138.63" x2="313.5" y2="138.63" stroke="#333" stroke-width="0.5"/>
<line x1="312.4" y1="136.93" x2="313.5" y2="136.93" stroke="#333" stroke-width="0.5"/>
<line x1="312.4" y1="135.54" x2="313.5" y2="135.54" stroke="#333" stroke-width="0.5"/>
<line x1="312.4" y1="134.37" x2="313.5" y2="134.37" stroke="#333" stroke-width="0.5"/>
<line x1="312.4" y1="133.35" x2="313.5" y2="133.35" stroke="#333" stroke-width="0.5"/>
<line x1="312.4" y1="132.45" x2="313.5" y2="132.45" stroke="#333" stroke-width="0.5"/>
<line x1="312.4" y1="126.37" x2="313.5" y2="126.37" stroke="#333" stroke-width="0.5"/>
<line x1="312.4" y1="123.28" x2="313.5" y2="123.28" stroke="#333" stroke-width="0.5"/>
<line x1="312.4" y1="121.08" x2="313.5" y2="121.08" stroke="#333" stroke-width="0.5"/>
<line x1="312.4" y1="119.38" x2="313.5" y2="119.38" stroke="#333" stroke-width="0.5"/>
<line x1="312.4" y1="117.99" x2="313.5" y2="117.99" stroke="#333" stroke-width="0.5"/>
<line x1="312.4" y1="116.82" x2="313.5" y2="116.82" stroke="#333" stroke-width="0.5"/>
<line x1="312.4" y1="115.8" x2="313.5" y2="115.8" stroke="#333" stroke-width="0.5"/>
<line x1="312.4" y1="114.9" x2="313.5" y2="114.9" stroke="#333" stroke-width="0.5"/>
<line x1="313.1" y1="184.5" x2="499.4" y2="184.5" stroke="#333" stroke-width="1"/>
<line x1="329" y1="184.5" x2="329" y2="186.1" stroke="#333" stroke-width="0.7"/>
<line x1="360.4" y1="184.5" x2="360.4" y2="186.1" stroke="#333" stroke-width="0.7"/>
<line x1="391.1" y1="184.5" x2="391.1" y2="186.1" stroke="#333" stroke-width="0.7"/>
<line x1="422.3" y1="184.5" x2="422.3" y2="186.1" stroke="#333" stroke-width="0.7"/>
<line x1="453" y1="184.5" x2="453" y2="186.1" stroke="#333" stroke-width="0.7"/>
<line x1="484.4" y1="184.5" x2="484.4" y2="186.1" stroke="#333" stroke-width="0.7"/>
<text x="340.6" y="116.17" font-size="6.3" text-anchor="middle" fill="#111" stroke="#111" stroke-width="0.2"><tspan font-style="italic">P</tspan><tspan> =0.055</tspan></text>
<line x1="322.8" y1="117.2" x2="357.9" y2="117.2" stroke="#333" stroke-width="1"/>
<text x="404.5" y="116.27" font-size="6.3" text-anchor="middle" fill="#111" stroke="#111" stroke-width="0.2"><tspan font-style="italic">P</tspan><tspan> =0.008</tspan></text>
<line x1="387.7" y1="117.5" x2="422.3" y2="117.5" stroke="#333" stroke-width="1"/>
<circle cx="328.5" cy="126.9" r="1.3" fill="#000"/>
<circle cx="321.1" cy="129.8" r="1.3" fill="#000"/>
<circle cx="324.9" cy="131.3" r="1.3" fill="#000"/>
<circle cx="331.8" cy="131.3" r="1.3" fill="#000"/>
<circle cx="325.2" cy="133.9" r="1.3" fill="#000"/>
<circle cx="328.5" cy="133.9" r="1.3" fill="#000"/>
<circle cx="331.8" cy="134.5" r="1.3" fill="#000"/>
<circle cx="335" cy="134.5" r="1.3" fill="#000"/>
<circle cx="328.5" cy="137.2" r="1.3" fill="#000"/>
<circle cx="328.5" cy="147.3" r="1.3" fill="#000"/>
<circle cx="328.5" cy="153" r="1.3" fill="#000"/>
<line x1="317" y1="134.2" x2="338.3" y2="134.2" stroke="#555" stroke-width="0.9"/>
<text x="338.3" y="132.98" font-size="6.6" text-anchor="start" fill="#111" stroke="#111" stroke-width="0.2"><tspan>68</tspan></text>
<circle cx="355.2" cy="127.6" r="1.25" fill="#fff" stroke="#000" stroke-width="0.9"/>
<circle cx="358.9" cy="128.5" r="1.25" fill="#fff" stroke="#000" stroke-width="0.9"/>
<circle cx="352.2" cy="146.4" r="1.25" fill="#fff" stroke="#000" stroke-width="0.9"/>
<circle cx="355.2" cy="146.4" r="1.25" fill="#fff" stroke="#000" stroke-width="0.9"/>
<circle cx="362.6" cy="146.4" r="1.25" fill="#fff" stroke="#000" stroke-width="0.9"/>
<circle cx="365.4" cy="146.4" r="1.25" fill="#fff" stroke="#000" stroke-width="0.9"/>
<circle cx="358.9" cy="148.5" r="1.25" fill="#fff" stroke="#000" stroke-width="0.9"/>
<circle cx="355.2" cy="152.9" r="1.25" fill="#fff" stroke="#000" stroke-width="0.9"/>
<circle cx="358.9" cy="152.9" r="1.25" fill="#fff" stroke="#000" stroke-width="0.9"/>
<circle cx="362.6" cy="152.9" r="1.25" fill="#fff" stroke="#000" stroke-width="0.9"/>
<circle cx="358.9" cy="160.9" r="1.3" fill="#666"/>
<circle cx="358.9" cy="134.9" r="1.45" fill="#555"/>
<circle cx="358.9" cy="138.5" r="1.45" fill="#555"/>
<line x1="348.9" y1="147" x2="369.3" y2="147" stroke="#555" stroke-width="0.9"/>
<text x="368.6" y="145.58" font-size="6.6" text-anchor="start" fill="#111" stroke="#111" stroke-width="0.2"><tspan>14</tspan></text>
<path d="M386.6 135.75L387.85 138L385.35 138Z" fill="#000"/>
<path d="M390.1 138.95L391.35 141.2L388.85 141.2Z" fill="#000"/>
<path d="M393.8 138.15L395.05 140.4L392.55 140.4Z" fill="#000"/>
<path d="M386.6 143.35L387.85 145.6L385.35 145.6Z" fill="#000"/>
<path d="M390.1 146.05L391.35 148.3L388.85 148.3Z" fill="#000"/>
<path d="M386.6 152.05L387.85 154.3L385.35 154.3Z" fill="#000"/>
<path d="M390.1 150.05L391.35 152.3L388.85 152.3Z" fill="#000"/>
<path d="M393.5 152.05L394.75 154.3L392.25 154.3Z" fill="#000"/>
<path d="M390.1 154.45L391.35 156.7L388.85 156.7Z" fill="#000"/>
<path d="M389.8 161.25L391.05 163.5L388.55 163.5Z" fill="#000"/>
<line x1="379.8" y1="148.8" x2="400.1" y2="148.8" stroke="#555" stroke-width="0.9"/>
<text x="398.6" y="147.28" font-size="6.6" text-anchor="start" fill="#111" stroke="#111" stroke-width="0.2"><tspan>10</tspan></text>
<path d="M421 140.35L422.55 143.14L419.45 143.14Z" fill="#000"/>
<path d="M417.2 147.45L418.75 150.24L415.65 150.24Z" fill="#000"/>
<path d="M421 149.85L422.55 152.64L419.45 152.64Z" fill="#000"/>
<path d="M417.2 156.15L418.75 158.94L415.65 158.94Z" fill="#000"/>
<path d="M421 155.05L422.55 157.84L419.45 157.84Z" fill="#000"/>
<path d="M424.7 154.25L426.25 157.04L423.15 157.04Z" fill="#000"/>
<path d="M421 157.45L422.55 160.24L419.45 160.24Z" fill="#000"/>
<path d="M421 159.05L422.55 161.84L419.45 161.84Z" fill="#000"/>
<path d="M414 160.95L415.55 163.74L412.45 163.74Z" fill="#000"/>
<path d="M417.2 160.95L418.75 163.74L415.65 163.74Z" fill="#000"/>
<path d="M424.7 160.95L426.25 163.74L423.15 163.74Z" fill="#000"/>
<path d="M428.3 160.95L429.85 163.74L426.75 163.74Z" fill="#000"/>
<path d="M421 163.05L422.55 165.84L419.45 165.84Z" fill="#000"/>
<path d="M424.7 162.55L426.25 165.34L423.15 165.34Z" fill="#000"/>
<line x1="410.4" y1="158.7" x2="431" y2="158.7" stroke="#555" stroke-width="0.9"/>
<text x="430.2" y="156.78" font-size="6.6" text-anchor="start" fill="#111" stroke="#111" stroke-width="0.2"><tspan>2.9</tspan></text>
<circle cx="448.7" cy="152.4" r="1.3" fill="#000"/>
<circle cx="451.9" cy="151.9" r="1.3" fill="#000"/>
<circle cx="451.4" cy="155" r="1.3" fill="#000"/>
<circle cx="451.9" cy="160.3" r="1.3" fill="#000"/>
<circle cx="451.9" cy="166.9" r="1.3" fill="#000"/>
<circle cx="451.9" cy="172.5" r="1.3" fill="#000"/>
<line x1="441.6" y1="157.4" x2="462.2" y2="157.4" stroke="#555" stroke-width="0.9"/>
<text x="459.8" y="156.38" font-size="6.6" text-anchor="start" fill="#111" stroke="#111" stroke-width="0.2"><tspan>3.3</tspan></text>
<path d="M482.5 144.65L484.15 146.3L482.5 147.95L480.85 146.3Z" fill="#fff" stroke="#000" stroke-width="1"/>
<path d="M486.3 143.45L487.95 145.1L486.3 146.75L484.65 145.1Z" fill="#fff" stroke="#000" stroke-width="1"/>
<path d="M482.5 151.35L484.15 153L482.5 154.65L480.85 153Z" fill="#fff" stroke="#000" stroke-width="1"/>
<path d="M482.5 158.15L484.15 159.8L482.5 161.45L480.85 159.8Z" fill="#fff" stroke="#000" stroke-width="1"/>
<path d="M486 158.65L487.65 160.3L486 161.95L484.35 160.3Z" fill="#fff" stroke="#000" stroke-width="1"/>
<path d="M475.7 161.35L477.35 163L475.7 164.65L474.05 163Z" fill="#fff" stroke="#000" stroke-width="1"/>
<path d="M478.8 161.35L480.45 163L478.8 164.65L477.15 163Z" fill="#fff" stroke="#000" stroke-width="1"/>
<path d="M482.5 161.35L484.15 163L482.5 164.65L480.85 163Z" fill="#fff" stroke="#000" stroke-width="1"/>
<path d="M486 161.35L487.65 163L486 164.65L484.35 163Z" fill="#fff" stroke="#000" stroke-width="1"/>
<path d="M489.4 161.35L491.05 163L489.4 164.65L487.75 163Z" fill="#fff" stroke="#000" stroke-width="1"/>
<path d="M479.3 159.75L480.95 161.4L479.3 163.05L477.65 161.4Z" fill="#fff" stroke="#000" stroke-width="1"/>
<path d="M482.5 164.05L484.15 165.7L482.5 167.35L480.85 165.7Z" fill="#fff" stroke="#000" stroke-width="1"/>
<path d="M486 164.05L487.65 165.7L486 167.35L484.35 165.7Z" fill="#fff" stroke="#000" stroke-width="1"/>
<path d="M479.6 167.35L481.25 169L479.6 170.65L477.95 169Z" fill="#fff" stroke="#000" stroke-width="1"/>
<path d="M482.5 166.55L484.15 168.2L482.5 169.85L480.85 168.2Z" fill="#fff" stroke="#000" stroke-width="1"/>
<path d="M482.5 171.35L484.15 173L482.5 174.65L480.85 173Z" fill="#fff" stroke="#000" stroke-width="1"/>
<path d="M479.3 177.15L480.95 178.8L479.3 180.45L477.65 178.8Z" fill="#fff" stroke="#000" stroke-width="1"/>
<path d="M482.5 177.15L484.15 178.8L482.5 180.45L480.85 178.8Z" fill="#fff" stroke="#000" stroke-width="1"/>
<path d="M486.3 177.15L487.95 178.8L486.3 180.45L484.65 178.8Z" fill="#fff" stroke="#000" stroke-width="1"/>
<line x1="472.5" y1="163" x2="493.1" y2="163" stroke="#555" stroke-width="0.9"/>
<text x="492.3" y="161.08" font-size="6.6" text-anchor="start" fill="#111" stroke="#111" stroke-width="0.2"><tspan>1.7</tspan></text>
<text x="329.3" y="191.92" font-size="7" text-anchor="middle" fill="#111" stroke="#111" stroke-width="0.2"><tspan>NR</tspan></text>
<text x="329.3" y="201.97" font-size="6.3" text-anchor="middle" fill="#111" stroke="#111" stroke-width="0.2"><tspan>(</tspan><tspan font-style="italic">n</tspan><tspan> =11)</tspan></text>
<text x="359.5" y="191.92" font-size="7" text-anchor="middle" fill="#111" stroke="#111" stroke-width="0.2"><tspan>R</tspan></text>
<text x="359.5" y="201.97" font-size="6.3" text-anchor="middle" fill="#111" stroke="#111" stroke-width="0.2"><tspan>(</tspan><tspan font-style="italic">n</tspan><tspan> =13)</tspan></text>
<text x="390.6" y="191.92" font-size="7" text-anchor="middle" fill="#111" stroke="#111" stroke-width="0.2"><tspan>NR</tspan></text>
<text x="390.6" y="201.97" font-size="6.3" text-anchor="middle" fill="#111" stroke="#111" stroke-width="0.2"><tspan>(</tspan><tspan font-style="italic">n</tspan><tspan> =10)</tspan></text>
<text x="421.5" y="191.92" font-size="7" text-anchor="middle" fill="#111" stroke="#111" stroke-width="0.2"><tspan>R</tspan></text>
<text x="421.5" y="201.97" font-size="6.3" text-anchor="middle" fill="#111" stroke="#111" stroke-width="0.2"><tspan>(</tspan><tspan font-style="italic">n</tspan><tspan> =12)</tspan></text>
<text x="452.7" y="191.92" font-size="7" text-anchor="middle" fill="#111" stroke="#111" stroke-width="0.2"><tspan>NR</tspan></text>
<text x="454.7" y="201.97" font-size="6.3" text-anchor="middle" fill="#111" stroke="#111" stroke-width="0.2"><tspan>(</tspan><tspan font-style="italic">n</tspan><tspan> =6)</tspan></text>
<text x="483.6" y="191.92" font-size="7" text-anchor="middle" fill="#111" stroke="#111" stroke-width="0.2"><tspan>R</tspan></text>
<text x="486.1" y="201.97" font-size="6.3" text-anchor="middle" fill="#111" stroke="#111" stroke-width="0.2"><tspan>(</tspan><tspan font-style="italic">n</tspan><tspan> =18)</tspan></text>
<text x="74.6" y="230.12" font-size="7" text-anchor="middle" fill="#000" font-weight="bold" stroke="#000" stroke-width="0.12"><tspan>NMA alone</tspan></text>
<text x="139.6" y="229.82" font-size="7" text-anchor="middle" fill="#000" font-weight="bold" stroke="#000" stroke-width="0.12"><tspan>NMA+2Gy</tspan></text>
<text x="198.3" y="229.92" font-size="7" text-anchor="middle" fill="#000" font-weight="bold" stroke="#000" stroke-width="0.12"><tspan>NMA+12Gy</tspan></text>
<text transform="translate(17.23 278.8) rotate(-90)" x="0" y="0" font-size="7.3" text-anchor="middle" fill="#111" stroke="#111" stroke-width="0.1"><tspan>% CD4</tspan><tspan font-size="4.82" baseline-shift="3.65">+</tspan><tspan>FoxP3</tspan><tspan font-size="4.82" baseline-shift="3.65">+</tspan></text>
<text transform="translate(27.53 279.7) rotate(-90)" x="0" y="0" font-size="7.3" text-anchor="middle" fill="#111" stroke="#111" stroke-width="0.1"><tspan>in CD4</tspan><tspan font-size="4.82" baseline-shift="3.65">+</tspan><tspan> T cells</tspan></text>
<text transform="translate(20.78 353.6) rotate(-90)" x="0" y="0" font-size="9.4" text-anchor="middle" fill="#111" stroke="#111" stroke-width="0.1"><tspan>CD4</tspan><tspan font-size="6.2" baseline-shift="4.7">+</tspan><tspan> count/μL</tspan></text>
<line x1="45.5" y1="248.3" x2="45.5" y2="311" stroke="#333" stroke-width="1"/>
<line x1="43.9" y1="310.3" x2="45.5" y2="310.3" stroke="#333" stroke-width="0.7"/>
<text x="43.55" y="312.46" font-size="6" text-anchor="end" fill="#222" stroke="#222" stroke-width="0.2"><tspan>0.1</tspan></text>
<line x1="43.9" y1="289.95" x2="45.5" y2="289.95" stroke="#333" stroke-width="0.7"/>
<text x="43.55" y="292.11" font-size="6" text-anchor="end" fill="#222" stroke="#222" stroke-width="0.2"><tspan>1</tspan></text>
<line x1="43.9" y1="269.6" x2="45.5" y2="269.6" stroke="#333" stroke-width="0.7"/>
<text x="43.55" y="271.76" font-size="6" text-anchor="end" fill="#222" stroke="#222" stroke-width="0.2"><tspan>10</tspan></text>
<line x1="43.9" y1="249.25" x2="45.5" y2="249.25" stroke="#333" stroke-width="0.7"/>
<text x="43.55" y="251.41" font-size="6" text-anchor="end" fill="#222" stroke="#222" stroke-width="0.2"><tspan>100</tspan></text>
<line x1="44.4" y1="304.17" x2="45.5" y2="304.17" stroke="#333" stroke-width="0.5"/>
<line x1="44.4" y1="300.59" x2="45.5" y2="300.59" stroke="#333" stroke-width="0.5"/>
<line x1="44.4" y1="298.05" x2="45.5" y2="298.05" stroke="#333" stroke-width="0.5"/>
<line x1="44.4" y1="296.08" x2="45.5" y2="296.08" stroke="#333" stroke-width="0.5"/>
<line x1="44.4" y1="294.46" x2="45.5" y2="294.46" stroke="#333" stroke-width="0.5"/>
<line x1="44.4" y1="293.1" x2="45.5" y2="293.1" stroke="#333" stroke-width="0.5"/>
<line x1="44.4" y1="291.92" x2="45.5" y2="291.92" stroke="#333" stroke-width="0.5"/>
<line x1="44.4" y1="290.88" x2="45.5" y2="290.88" stroke="#333" stroke-width="0.5"/>
<line x1="44.4" y1="283.82" x2="45.5" y2="283.82" stroke="#333" stroke-width="0.5"/>
<line x1="44.4" y1="280.24" x2="45.5" y2="280.24" stroke="#333" stroke-width="0.5"/>
<line x1="44.4" y1="277.7" x2="45.5" y2="277.7" stroke="#333" stroke-width="0.5"/>
<line x1="44.4" y1="275.73" x2="45.5" y2="275.73" stroke="#333" stroke-width="0.5"/>
<line x1="44.4" y1="274.11" x2="45.5" y2="274.11" stroke="#333" stroke-width="0.5"/>
<line x1="44.4" y1="272.75" x2="45.5" y2="272.75" stroke="#333" stroke-width="0.5"/>
<line x1="44.4" y1="271.57" x2="45.5" y2="271.57" stroke="#333" stroke-width="0.5"/>
<line x1="44.4" y1="270.53" x2="45.5" y2="270.53" stroke="#333" stroke-width="0.5"/>
<line x1="44.4" y1="263.47" x2="45.5" y2="263.47" stroke="#333" stroke-width="0.5"/>
<line x1="44.4" y1="259.89" x2="45.5" y2="259.89" stroke="#333" stroke-width="0.5"/>
<line x1="44.4" y1="257.35" x2="45.5" y2="257.35" stroke="#333" stroke-width="0.5"/>
<line x1="44.4" y1="255.38" x2="45.5" y2="255.38" stroke="#333" stroke-width="0.5"/>
<line x1="44.4" y1="253.76" x2="45.5" y2="253.76" stroke="#333" stroke-width="0.5"/>
<line x1="44.4" y1="252.4" x2="45.5" y2="252.4" stroke="#333" stroke-width="0.5"/>
<line x1="44.4" y1="251.22" x2="45.5" y2="251.22" stroke="#333" stroke-width="0.5"/>
<line x1="44.4" y1="250.18" x2="45.5" y2="250.18" stroke="#333" stroke-width="0.5"/>
<line x1="43.1" y1="310.5" x2="233.4" y2="310.5" stroke="#333" stroke-width="1"/>
<line x1="61" y1="310.5" x2="61" y2="312.1" stroke="#333" stroke-width="0.7"/>
<line x1="91.9" y1="310.5" x2="91.9" y2="312.1" stroke="#333" stroke-width="0.7"/>
<line x1="122.4" y1="310.5" x2="122.4" y2="312.1" stroke="#333" stroke-width="0.7"/>
<line x1="153" y1="310.5" x2="153" y2="312.1" stroke="#333" stroke-width="0.7"/>
<line x1="184.5" y1="310.5" x2="184.5" y2="312.1" stroke="#333" stroke-width="0.7"/>
<line x1="215.5" y1="310.5" x2="215.5" y2="312.1" stroke="#333" stroke-width="0.7"/>
<text x="75.8" y="240.88" font-size="6.6" text-anchor="middle" fill="#111" stroke="#111" stroke-width="0.2"><tspan font-style="italic">P</tspan><tspan> =0.095</tspan></text>
<line x1="57.7" y1="242.5" x2="91.3" y2="242.5" stroke="#333" stroke-width="1"/>
<text x="140.1" y="240.18" font-size="6.6" text-anchor="middle" fill="#111" stroke="#111" stroke-width="0.2"><tspan font-style="italic">P</tspan><tspan> =0.009</tspan></text>
<line x1="123" y1="242.3" x2="156.3" y2="242.3" stroke="#333" stroke-width="1"/>
<text x="197" y="240.98" font-size="6.6" text-anchor="middle" fill="#111" stroke="#111" stroke-width="0.2"><tspan font-style="italic">P</tspan><tspan> =0.003</tspan></text>
<line x1="181.3" y1="243" x2="214.9" y2="243" stroke="#333" stroke-width="1"/>
<circle cx="53.2" cy="254.3" r="1.5" fill="#000"/>
<circle cx="57.2" cy="254.3" r="1.5" fill="#000"/>
<circle cx="61.1" cy="254.3" r="1.5" fill="#000"/>
<circle cx="65.1" cy="254.3" r="1.5" fill="#000"/>
<circle cx="69.1" cy="254.3" r="1.5" fill="#000"/>
<circle cx="57.2" cy="260.7" r="1.5" fill="#000"/>
<circle cx="61.1" cy="260.7" r="1.5" fill="#000"/>
<circle cx="65.1" cy="260.7" r="1.5" fill="#000"/>
<circle cx="61.1" cy="268.1" r="1.5" fill="#000"/>
<circle cx="61.1" cy="274.1" r="1.5" fill="#000"/>
<circle cx="61.1" cy="280.8" r="1.5" fill="#000"/>
<line x1="50.8" y1="259.1" x2="71.8" y2="259.1" stroke="#555" stroke-width="0.9"/>
<text x="72.7" y="259.03" font-size="7.3" text-anchor="start" fill="#111" stroke="#111" stroke-width="0.2"><tspan>28</tspan></text>
<circle cx="91.7" cy="251.9" r="1.6" fill="#fff" stroke="#000" stroke-width="0.85"/>
<circle cx="91.7" cy="257.5" r="1.6" fill="#fff" stroke="#000" stroke-width="0.85"/>
<circle cx="88.1" cy="263" r="1.6" fill="#fff" stroke="#000" stroke-width="0.85"/>
<circle cx="91.7" cy="263" r="1.6" fill="#fff" stroke="#000" stroke-width="0.85"/>
<circle cx="95.7" cy="261.1" r="1.6" fill="#fff" stroke="#000" stroke-width="0.85"/>
<circle cx="91.7" cy="267" r="1.6" fill="#fff" stroke="#000" stroke-width="0.85"/>
<circle cx="95.7" cy="267" r="1.6" fill="#fff" stroke="#000" stroke-width="0.85"/>
<circle cx="88.1" cy="268.6" r="1.6" fill="#fff" stroke="#000" stroke-width="0.85"/>
<circle cx="91.7" cy="269" r="1.6" fill="#fff" stroke="#000" stroke-width="0.85"/>
<circle cx="88.1" cy="272.2" r="1.6" fill="#fff" stroke="#000" stroke-width="0.85"/>
<circle cx="91.7" cy="272.2" r="1.6" fill="#fff" stroke="#000" stroke-width="0.85"/>
<circle cx="95.7" cy="272.2" r="1.6" fill="#fff" stroke="#000" stroke-width="0.85"/>
<circle cx="91.7" cy="277" r="1.6" fill="#fff" stroke="#000" stroke-width="0.85"/>
<circle cx="95.7" cy="275.4" r="1.6" fill="#fff" stroke="#000" stroke-width="0.85"/>
<line x1="81.8" y1="267" x2="101.6" y2="267" stroke="#555" stroke-width="0.9"/>
<text x="99.7" y="265.33" font-size="7.3" text-anchor="start" fill="#111" stroke="#111" stroke-width="0.2"><tspan>12</tspan></text>
<path d="M121.8 251.3L123.4 254.18L120.2 254.18Z" fill="#000"/>
<path d="M122.2 253.9L123.8 256.78L120.6 256.78Z" fill="#000"/>
<path d="M126.5 253.7L128.1 256.58L124.9 256.58Z" fill="#000"/>
<path d="M118.4 255.6L120 258.48L116.8 258.48Z" fill="#000"/>
<path d="M122.2 256.3L123.8 259.18L120.6 259.18Z" fill="#000"/>
<path d="M118.4 259.4L120 262.28L116.8 262.28Z" fill="#000"/>
<path d="M122.2 261.1L123.8 263.98L120.6 263.98Z" fill="#000"/>
<path d="M126.5 260.7L128.1 263.58L124.9 263.58Z" fill="#000"/>
<path d="M121.8 271.9L123.4 274.78L120.2 274.78Z" fill="#000"/>
<path d="M126.1 276.4L127.7 279.28L124.5 279.28Z" fill="#000"/>
<path d="M121.8 279.8L123.4 282.68L120.2 282.68Z" fill="#000"/>
<line x1="112.3" y1="261" x2="132.4" y2="261" stroke="#555" stroke-width="0.9"/>
<text x="132.1" y="258.93" font-size="7.3" text-anchor="start" fill="#111" stroke="#111" stroke-width="0.2"><tspan>25</tspan></text>
<path d="M148.6 259.9L150.5 263.32L146.7 263.32Z" fill="#000"/>
<path d="M152.9 263.8L154.8 267.22L151 267.22Z" fill="#000"/>
<path d="M157.2 263.3L159.1 266.72L155.3 266.72Z" fill="#000"/>
<path d="M144.7 273.6L146.6 277.02L142.8 277.02Z" fill="#000"/>
<path d="M148.6 273.6L150.5 277.02L146.7 277.02Z" fill="#000"/>
<path d="M152.9 273.6L154.8 277.02L151 277.02Z" fill="#000"/>
<path d="M157.2 273.6L159.1 277.02L155.3 277.02Z" fill="#000"/>
<path d="M161.1 273.6L163 277.02L159.2 277.02Z" fill="#000"/>
<path d="M152.9 272.4L154.8 275.82L151 275.82Z" fill="#000"/>
<path d="M148.6 276.1L150.5 279.52L146.7 279.52Z" fill="#000"/>
<path d="M152.9 277L154.8 280.42L151 280.42Z" fill="#000"/>
<path d="M157.2 276.1L159.1 279.52L155.3 279.52Z" fill="#000"/>
<path d="M148.6 281.1L150.5 284.52L146.7 284.52Z" fill="#000"/>
<path d="M152.9 283.4L154.8 286.82L151 286.82Z" fill="#000"/>
<path d="M152.9 289.2L154.8 292.62L151 292.62Z" fill="#000"/>
<line x1="142.7" y1="276.3" x2="163.1" y2="276.3" stroke="#555" stroke-width="0.9"/>
<text x="162.3" y="274.33" font-size="7.3" text-anchor="start" fill="#111" stroke="#111" stroke-width="0.2"><tspan>4.3</tspan></text>
<circle cx="188" cy="261.6" r="1.5" fill="#000"/>
<circle cx="179.8" cy="266.5" r="1.5" fill="#000"/>
<circle cx="183.7" cy="265.3" r="1.5" fill="#000"/>
<circle cx="183.7" cy="269.8" r="1.5" fill="#000"/>
<circle cx="187.6" cy="273.1" r="1.5" fill="#000"/>
<circle cx="183.3" cy="277" r="1.5" fill="#000"/>
<line x1="173.5" y1="267.5" x2="193.4" y2="267.5" stroke="#555" stroke-width="0.9"/>
<text x="192.5" y="265.23" font-size="7.3" text-anchor="start" fill="#111" stroke="#111" stroke-width="0.2"><tspan>11</tspan></text>
<path d="M214 265.4L215.6 267L214 268.6L212.4 267Z" fill="#fff" stroke="#000" stroke-width="0.9"/>
<path d="M218 265.4L219.6 267L218 268.6L216.4 267Z" fill="#fff" stroke="#000" stroke-width="0.9"/>
<path d="M205.8 273.8L207.4 275.4L205.8 277L204.2 275.4Z" fill="#fff" stroke="#000" stroke-width="0.9"/>
<path d="M208.8 273L210.4 274.6L208.8 276.2L207.2 274.6Z" fill="#fff" stroke="#000" stroke-width="0.9"/>
<path d="M211.8 272.4L213.4 274L211.8 275.6L210.2 274Z" fill="#fff" stroke="#000" stroke-width="0.9"/>
<path d="M214.6 274.4L216.2 276L214.6 277.6L213 276Z" fill="#fff" stroke="#000" stroke-width="0.9"/>
<path d="M218 272.4L219.6 274L218 275.6L216.4 274Z" fill="#fff" stroke="#000" stroke-width="0.9"/>
<path d="M220.6 274.2L222.2 275.8L220.6 277.4L219 275.8Z" fill="#fff" stroke="#000" stroke-width="0.9"/>
<path d="M223 272.8L224.6 274.4L223 276L221.4 274.4Z" fill="#fff" stroke="#000" stroke-width="0.9"/>
<path d="M206 280L207.6 281.6L206 283.2L204.4 281.6Z" fill="#fff" stroke="#000" stroke-width="0.9"/>
<path d="M209 280.6L210.6 282.2L209 283.8L207.4 282.2Z" fill="#fff" stroke="#000" stroke-width="0.9"/>
<path d="M212.2 279.8L213.8 281.4L212.2 283L210.6 281.4Z" fill="#fff" stroke="#000" stroke-width="0.9"/>
<path d="M215.2 280.8L216.8 282.4L215.2 284L213.6 282.4Z" fill="#fff" stroke="#000" stroke-width="0.9"/>
<path d="M218.2 279.4L219.8 281L218.2 282.6L216.6 281Z" fill="#fff" stroke="#000" stroke-width="0.9"/>
<path d="M221.4 280.6L223 282.2L221.4 283.8L219.8 282.2Z" fill="#fff" stroke="#000" stroke-width="0.9"/>
<path d="M209.6 283L211.2 284.6L209.6 286.2L208 284.6Z" fill="#fff" stroke="#000" stroke-width="0.9"/>
<path d="M212.2 283.8L213.8 285.4L212.2 287L210.6 285.4Z" fill="#fff" stroke="#000" stroke-width="0.9"/>
<path d="M214.6 284.8L216.2 286.4L214.6 288L213 286.4Z" fill="#fff" stroke="#000" stroke-width="0.9"/>
<path d="M218.2 288L219.8 289.6L218.2 291.2L216.6 289.6Z" fill="#fff" stroke="#000" stroke-width="0.9"/>
<path d="M214 290.7L215.6 292.3L214 293.9L212.4 292.3Z" fill="#fff" stroke="#000" stroke-width="0.9"/>
<line x1="204.3" y1="280" x2="224.3" y2="280" stroke="#555" stroke-width="0.9"/>
<text x="225.3" y="277.93" font-size="7.3" text-anchor="start" fill="#111" stroke="#111" stroke-width="0.2"><tspan>2.9</tspan></text>
<line x1="45.5" y1="323.2" x2="45.5" y2="386" stroke="#333" stroke-width="1"/>
<line x1="43.9" y1="385.8" x2="45.5" y2="385.8" stroke="#333" stroke-width="0.7"/>
<text x="43.55" y="387.96" font-size="6" text-anchor="end" fill="#222" stroke="#222" stroke-width="0.2"><tspan>1</tspan></text>
<line x1="43.9" y1="370.3" x2="45.5" y2="370.3" stroke="#333" stroke-width="0.7"/>
<text x="43.55" y="372.46" font-size="6" text-anchor="end" fill="#222" stroke="#222" stroke-width="0.2"><tspan>10</tspan></text>
<line x1="43.9" y1="354.8" x2="45.5" y2="354.8" stroke="#333" stroke-width="0.7"/>
<text x="43.55" y="356.96" font-size="6" text-anchor="end" fill="#222" stroke="#222" stroke-width="0.2"><tspan>100</tspan></text>
<line x1="43.9" y1="339.3" x2="45.5" y2="339.3" stroke="#333" stroke-width="0.7"/>
<text x="43.55" y="341.46" font-size="6" text-anchor="end" fill="#222" stroke="#222" stroke-width="0.2"><tspan>1000</tspan></text>
<line x1="43.9" y1="323.8" x2="45.5" y2="323.8" stroke="#333" stroke-width="0.7"/>
<text x="43.55" y="325.96" font-size="6" text-anchor="end" fill="#222" stroke="#222" stroke-width="0.2"><tspan>10000</tspan></text>
<line x1="44.4" y1="381.13" x2="45.5" y2="381.13" stroke="#333" stroke-width="0.5"/>
<line x1="44.4" y1="378.4" x2="45.5" y2="378.4" stroke="#333" stroke-width="0.5"/>
<line x1="44.4" y1="376.47" x2="45.5" y2="376.47" stroke="#333" stroke-width="0.5"/>
<line x1="44.4" y1="374.97" x2="45.5" y2="374.97" stroke="#333" stroke-width="0.5"/>
<line x1="44.4" y1="373.74" x2="45.5" y2="373.74" stroke="#333" stroke-width="0.5"/>
<line x1="44.4" y1="372.7" x2="45.5" y2="372.7" stroke="#333" stroke-width="0.5"/>
<line x1="44.4" y1="371.8" x2="45.5" y2="371.8" stroke="#333" stroke-width="0.5"/>
<line x1="44.4" y1="371.01" x2="45.5" y2="371.01" stroke="#333" stroke-width="0.5"/>
<line x1="44.4" y1="365.63" x2="45.5" y2="365.63" stroke="#333" stroke-width="0.5"/>
<line x1="44.4" y1="362.9" x2="45.5" y2="362.9" stroke="#333" stroke-width="0.5"/>
<line x1="44.4" y1="360.97" x2="45.5" y2="360.97" stroke="#333" stroke-width="0.5"/>
<line x1="44.4" y1="359.47" x2="45.5" y2="359.47" stroke="#333" stroke-width="0.5"/>
<line x1="44.4" y1="358.24" x2="45.5" y2="358.24" stroke="#333" stroke-width="0.5"/>
<line x1="44.4" y1="357.2" x2="45.5" y2="357.2" stroke="#333" stroke-width="0.5"/>
<line x1="44.4" y1="356.3" x2="45.5" y2="356.3" stroke="#333" stroke-width="0.5"/>
<line x1="44.4" y1="355.51" x2="45.5" y2="355.51" stroke="#333" stroke-width="0.5"/>
<line x1="44.4" y1="350.13" x2="45.5" y2="350.13" stroke="#333" stroke-width="0.5"/>
<line x1="44.4" y1="347.4" x2="45.5" y2="347.4" stroke="#333" stroke-width="0.5"/>
<line x1="44.4" y1="345.47" x2="45.5" y2="345.47" stroke="#333" stroke-width="0.5"/>
<line x1="44.4" y1="343.97" x2="45.5" y2="343.97" stroke="#333" stroke-width="0.5"/>
<line x1="44.4" y1="342.74" x2="45.5" y2="342.74" stroke="#333" stroke-width="0.5"/>
<line x1="44.4" y1="341.7" x2="45.5" y2="341.7" stroke="#333" stroke-width="0.5"/>
<line x1="44.4" y1="340.8" x2="45.5" y2="340.8" stroke="#333" stroke-width="0.5"/>
<line x1="44.4" y1="340.01" x2="45.5" y2="340.01" stroke="#333" stroke-width="0.5"/>
<line x1="44.4" y1="334.63" x2="45.5" y2="334.63" stroke="#333" stroke-width="0.5"/>
<line x1="44.4" y1="331.9" x2="45.5" y2="331.9" stroke="#333" stroke-width="0.5"/>
<line x1="44.4" y1="329.97" x2="45.5" y2="329.97" stroke="#333" stroke-width="0.5"/>
<line x1="44.4" y1="328.47" x2="45.5" y2="328.47" stroke="#333" stroke-width="0.5"/>
<line x1="44.4" y1="327.24" x2="45.5" y2="327.24" stroke="#333" stroke-width="0.5"/>
<line x1="44.4" y1="326.2" x2="45.5" y2="326.2" stroke="#333" stroke-width="0.5"/>
<line x1="44.4" y1="325.3" x2="45.5" y2="325.3" stroke="#333" stroke-width="0.5"/>
<line x1="44.4" y1="324.51" x2="45.5" y2="324.51" stroke="#333" stroke-width="0.5"/>
<line x1="43.1" y1="385.5" x2="233.4" y2="385.5" stroke="#333" stroke-width="1"/>
<line x1="61" y1="385.5" x2="61" y2="387.1" stroke="#333" stroke-width="0.7"/>
<line x1="91.9" y1="385.5" x2="91.9" y2="387.1" stroke="#333" stroke-width="0.7"/>
<line x1="122.4" y1="385.5" x2="122.4" y2="387.1" stroke="#333" stroke-width="0.7"/>
<line x1="153" y1="385.5" x2="153" y2="387.1" stroke="#333" stroke-width="0.7"/>
<line x1="184.5" y1="385.5" x2="184.5" y2="387.1" stroke="#333" stroke-width="0.7"/>
<line x1="215.5" y1="385.5" x2="215.5" y2="387.1" stroke="#333" stroke-width="0.7"/>
<circle cx="61.1" cy="334" r="1.5" fill="#000"/>
<circle cx="57.1" cy="345.4" r="1.5" fill="#000"/>
<circle cx="65.4" cy="347.5" r="1.5" fill="#000"/>
<circle cx="69.3" cy="345.4" r="1.5" fill="#000"/>
<circle cx="57.1" cy="349.1" r="1.5" fill="#000"/>
<circle cx="65.4" cy="349.1" r="1.5" fill="#000"/>
<circle cx="69.3" cy="349.1" r="1.5" fill="#000"/>
<circle cx="57.1" cy="350.7" r="1.5" fill="#000"/>
<circle cx="61.1" cy="352.6" r="1.5" fill="#000"/>
<circle cx="65.4" cy="350.2" r="1.5" fill="#000"/>
<circle cx="61.1" cy="358.6" r="1.5" fill="#000"/>
<path d="M61.1 347.2L62.5 349.72L59.7 349.72Z" fill="#000"/>
<path d="M51.4 347.8L54.4 347.8L52.9 350.6Z" fill="#000"/>
<line x1="51.4" y1="349.1" x2="70.9" y2="349.1" stroke="#555" stroke-width="0.9"/>
<text x="63" y="328.73" font-size="7.3" text-anchor="middle" fill="#111" stroke="#111" stroke-width="0.2"><tspan>232</tspan></text>
<circle cx="92.3" cy="335.9" r="1.6" fill="#fff" stroke="#000" stroke-width="0.85"/>
<circle cx="88.8" cy="344.8" r="1.6" fill="#fff" stroke="#000" stroke-width="0.85"/>
<circle cx="92.8" cy="344" r="1.6" fill="#fff" stroke="#000" stroke-width="0.85"/>
<circle cx="92.8" cy="348.6" r="1.6" fill="#fff" stroke="#000" stroke-width="0.85"/>
<circle cx="96.7" cy="348.6" r="1.6" fill="#fff" stroke="#000" stroke-width="0.85"/>
<circle cx="84.4" cy="353.8" r="1.6" fill="#fff" stroke="#000" stroke-width="0.85"/>
<circle cx="96.7" cy="353.8" r="1.6" fill="#fff" stroke="#000" stroke-width="0.85"/>
<circle cx="101" cy="353.8" r="1.6" fill="#fff" stroke="#000" stroke-width="0.85"/>
<circle cx="88.3" cy="357" r="1.6" fill="#fff" stroke="#000" stroke-width="0.85"/>
<circle cx="92.3" cy="356.5" r="1.6" fill="#fff" stroke="#000" stroke-width="0.85"/>
<circle cx="88.8" cy="359.4" r="1.6" fill="#fff" stroke="#000" stroke-width="0.85"/>
<circle cx="92.3" cy="361.8" r="1.6" fill="#fff" stroke="#000" stroke-width="0.85"/>
<circle cx="96.3" cy="361.8" r="1.6" fill="#fff" stroke="#000" stroke-width="0.85"/>
<line x1="82.8" y1="353.5" x2="102.6" y2="353.5" stroke="#555" stroke-width="0.9"/>
<text x="92.8" y="332.23" font-size="7.3" text-anchor="middle" fill="#111" stroke="#111" stroke-width="0.2"><tspan>110</tspan></text>
<path d="M123.2 340.1L124.8 342.98L121.6 342.98Z" fill="#000"/>
<path d="M128.3 338.5L129.9 341.38L126.7 341.38Z" fill="#000"/>
<path d="M123.2 351.7L124.8 354.58L121.6 354.58Z" fill="#000"/>
<path d="M123.9 356.3L125.5 359.18L122.3 359.18Z" fill="#000"/>
<path d="M115.1 362.6L116.7 365.48L113.5 365.48Z" fill="#000"/>
<path d="M119 362.6L120.6 365.48L117.4 365.48Z" fill="#000"/>
<path d="M123.9 362.6L125.5 365.48L122.3 365.48Z" fill="#000"/>
<path d="M128.3 362.6L129.9 365.48L126.7 365.48Z" fill="#000"/>
<path d="M123.9 369.1L125.5 371.98L122.3 371.98Z" fill="#000"/>
<line x1="113.5" y1="359.5" x2="134.3" y2="359.5" stroke="#555" stroke-width="0.9"/>
<text x="124.4" y="336.63" font-size="7.3" text-anchor="middle" fill="#111" stroke="#111" stroke-width="0.2"><tspan>46</tspan></text>
<path d="M155 340.9L156.9 344.32L153.1 344.32Z" fill="#000"/>
<path d="M155 345.6L156.9 349.02L153.1 349.02Z" fill="#000"/>
<path d="M150.6 350.9L152.5 354.32L148.7 354.32Z" fill="#000"/>
<path d="M146.4 354.4L148.3 357.82L144.5 357.82Z" fill="#000"/>
<path d="M150.6 354.4L152.5 357.82L148.7 357.82Z" fill="#000"/>
<path d="M155.7 354.4L157.6 357.82L153.8 357.82Z" fill="#000"/>
<path d="M159.9 354.4L161.8 357.82L158 357.82Z" fill="#000"/>
<path d="M150.6 357.2L152.5 360.62L148.7 360.62Z" fill="#000"/>
<path d="M155.2 357.2L157.1 360.62L153.3 360.62Z" fill="#000"/>
<path d="M150.6 360.7L152.5 364.12L148.7 364.12Z" fill="#000"/>
<path d="M155.7 360.7L157.6 364.12L153.8 364.12Z" fill="#000"/>
<path d="M159.9 360.7L161.8 364.12L158 364.12Z" fill="#000"/>
<path d="M155.7 363.7L157.6 367.12L153.8 367.12Z" fill="#000"/>
<line x1="144.5" y1="356.3" x2="165.4" y2="356.3" stroke="#555" stroke-width="0.9"/>
<text x="155.7" y="338.93" font-size="7.3" text-anchor="middle" fill="#111" stroke="#111" stroke-width="0.2"><tspan>75</tspan></text>
<circle cx="181.7" cy="357.9" r="1.5" fill="#000"/>
<circle cx="187" cy="359" r="1.5" fill="#000"/>
<circle cx="190.5" cy="356.7" r="1.5" fill="#000"/>
<circle cx="186.5" cy="364.1" r="1.5" fill="#000"/>
<circle cx="186.5" cy="369.9" r="1.5" fill="#000"/>
<circle cx="186.5" cy="377.6" r="1.5" fill="#000"/>
<line x1="176.1" y1="361.3" x2="197" y2="361.3" stroke="#555" stroke-width="0.9"/>
<text x="186.3" y="351.23" font-size="7.3" text-anchor="middle" fill="#111" stroke="#111" stroke-width="0.2"><tspan>37</tspan></text>
<path d="M213.4 345.6L215.1 347.3L213.4 349L211.7 347.3Z" fill="#fff" stroke="#000" stroke-width="0.9"/>
<path d="M217.7 347.8L219.4 349.5L217.7 351.2L216 349.5Z" fill="#fff" stroke="#000" stroke-width="0.9"/>
<path d="M221.7 346.7L223.4 348.4L221.7 350.1L220 348.4Z" fill="#fff" stroke="#000" stroke-width="0.9"/>
<path d="M226.2 345.1L227.9 346.8L226.2 348.5L224.5 346.8Z" fill="#fff" stroke="#000" stroke-width="0.9"/>
<path d="M217.7 352.1L219.4 353.8L217.7 355.5L216 353.8Z" fill="#fff" stroke="#000" stroke-width="0.9"/>
<path d="M209.1 354.1L210.8 355.8L209.1 357.5L207.4 355.8Z" fill="#fff" stroke="#000" stroke-width="0.9"/>
<path d="M213.4 354.1L215.1 355.8L213.4 357.5L211.7 355.8Z" fill="#fff" stroke="#000" stroke-width="0.9"/>
<path d="M217.4 354.1L219.1 355.8L217.4 357.5L215.7 355.8Z" fill="#fff" stroke="#000" stroke-width="0.9"/>
<path d="M222.1 354.5L223.8 356.2L222.1 357.9L220.4 356.2Z" fill="#fff" stroke="#000" stroke-width="0.9"/>
<path d="M226.2 354.1L227.9 355.8L226.2 357.5L224.5 355.8Z" fill="#fff" stroke="#000" stroke-width="0.9"/>
<path d="M217.7 357.5L219.4 359.2L217.7 360.9L216 359.2Z" fill="#fff" stroke="#000" stroke-width="0.9"/>
<path d="M221.7 359.5L223.4 361.2L221.7 362.9L220 361.2Z" fill="#fff" stroke="#000" stroke-width="0.9"/>
<path d="M213.4 360.8L215.1 362.5L213.4 364.2L211.7 362.5Z" fill="#fff" stroke="#000" stroke-width="0.9"/>
<path d="M217.7 361.5L219.4 363.2L217.7 364.9L216 363.2Z" fill="#fff" stroke="#000" stroke-width="0.9"/>
<path d="M213.4 365.3L215.1 367L213.4 368.7L211.7 367Z" fill="#fff" stroke="#000" stroke-width="0.9"/>
<path d="M222.1 366.2L223.8 367.9L222.1 369.6L220.4 367.9Z" fill="#fff" stroke="#000" stroke-width="0.9"/>
<path d="M217.7 368.9L219.4 370.6L217.7 372.3L216 370.6Z" fill="#fff" stroke="#000" stroke-width="0.9"/>
<path d="M217.7 373.8L219.4 375.5L217.7 377.2L216 375.5Z" fill="#fff" stroke="#000" stroke-width="0.9"/>
<path d="M217.7 381L219.4 382.7L217.7 384.4L216 382.7Z" fill="#fff" stroke="#000" stroke-width="0.9"/>
<line x1="207.4" y1="357.8" x2="228.9" y2="357.8" stroke="#555" stroke-width="0.9"/>
<text x="217.8" y="341.93" font-size="7.3" text-anchor="middle" fill="#111" stroke="#111" stroke-width="0.2"><tspan>62</tspan></text>
<text x="60.8" y="395.14" font-size="7.6" text-anchor="middle" fill="#111" stroke="#111" stroke-width="0.2"><tspan>NR</tspan></text>
<text x="62.6" y="402.89" font-size="7.2" text-anchor="middle" fill="#111" stroke="#111" stroke-width="0.2"><tspan>(</tspan><tspan font-style="italic">n</tspan><tspan> =11)</tspan></text>
<text x="92.3" y="395.14" font-size="7.6" text-anchor="middle" fill="#111" stroke="#111" stroke-width="0.2"><tspan>R</tspan></text>
<text x="92.3" y="402.89" font-size="7.2" text-anchor="middle" fill="#111" stroke="#111" stroke-width="0.2"><tspan>(</tspan><tspan font-style="italic">n</tspan><tspan> =13)</tspan></text>
<text x="123.7" y="395.14" font-size="7.6" text-anchor="middle" fill="#111" stroke="#111" stroke-width="0.2"><tspan>NR</tspan></text>
<text x="123.7" y="402.89" font-size="7.2" text-anchor="middle" fill="#111" stroke="#111" stroke-width="0.2"><tspan>(</tspan><tspan font-style="italic">n</tspan><tspan> =10)</tspan></text>
<text x="155" y="395.14" font-size="7.6" text-anchor="middle" fill="#111" stroke="#111" stroke-width="0.2"><tspan>R</tspan></text>
<text x="155" y="402.89" font-size="7.2" text-anchor="middle" fill="#111" stroke="#111" stroke-width="0.2"><tspan>(</tspan><tspan font-style="italic">n</tspan><tspan> =12)</tspan></text>
<text x="186.3" y="395.14" font-size="7.6" text-anchor="middle" fill="#111" stroke="#111" stroke-width="0.2"><tspan>NR</tspan></text>
<text x="188.1" y="402.89" font-size="7.2" text-anchor="middle" fill="#111" stroke="#111" stroke-width="0.2"><tspan>(</tspan><tspan font-style="italic">n</tspan><tspan> =6)</tspan></text>
<text x="217.8" y="395.14" font-size="7.6" text-anchor="middle" fill="#111" stroke="#111" stroke-width="0.2"><tspan>R</tspan></text>
<text x="219.6" y="402.89" font-size="7.2" text-anchor="middle" fill="#111" stroke="#111" stroke-width="0.2"><tspan>(</tspan><tspan font-style="italic">n</tspan><tspan> =18)</tspan></text>
<text x="339.5" y="228.92" font-size="7" text-anchor="middle" fill="#000" font-weight="bold" stroke="#000" stroke-width="0.12"><tspan>NMA alone</tspan></text>
<text x="399.4" y="228.52" font-size="7" text-anchor="middle" fill="#000" font-weight="bold" stroke="#000" stroke-width="0.12"><tspan>NMA+2Gy</tspan></text>
<text x="459.8" y="229.02" font-size="7" text-anchor="middle" fill="#000" font-weight="bold" stroke="#000" stroke-width="0.12"><tspan>NMA+12Gy</tspan></text>
<text transform="translate(280.24 276.2) rotate(-90)" x="0" y="0" font-size="9" text-anchor="middle" fill="#111" stroke="#111" stroke-width="0.1"><tspan>CD4</tspan><tspan font-size="5.94" baseline-shift="4.5">+</tspan><tspan>FoxP3</tspan><tspan font-size="5.94" baseline-shift="4.5">+</tspan></text>
<text transform="translate(290.62 277) rotate(-90)" x="0" y="0" font-size="8.4" text-anchor="middle" fill="#111" stroke="#111" stroke-width="0.1"><tspan>/CD8</tspan><tspan font-size="5.54" baseline-shift="4.2">+</tspan><tspan> ratio</tspan></text>
<text transform="translate(286.26 353) rotate(-90)" x="0" y="0" font-size="8.5" text-anchor="middle" fill="#111" stroke="#111" stroke-width="0.1"><tspan>CD8</tspan><tspan font-size="5.61" baseline-shift="4.25">+</tspan><tspan> count/μL</tspan></text>
<line x1="309.5" y1="247.3" x2="309.5" y2="310" stroke="#333" stroke-width="1"/>
<line x1="307.9" y1="309.3" x2="309.5" y2="309.3" stroke="#333" stroke-width="0.7"/>
<text x="307.55" y="311.14" font-size="5.1" text-anchor="end" fill="#222" stroke="#222" stroke-width="0.2"><tspan>0.0001</tspan></text>
<line x1="307.9" y1="297.14" x2="309.5" y2="297.14" stroke="#333" stroke-width="0.7"/>
<text x="307.55" y="298.98" font-size="5.1" text-anchor="end" fill="#222" stroke="#222" stroke-width="0.2"><tspan>0.001</tspan></text>
<line x1="307.9" y1="284.98" x2="309.5" y2="284.98" stroke="#333" stroke-width="0.7"/>
<text x="307.55" y="286.82" font-size="5.1" text-anchor="end" fill="#222" stroke="#222" stroke-width="0.2"><tspan>0.01</tspan></text>
<line x1="307.9" y1="272.82" x2="309.5" y2="272.82" stroke="#333" stroke-width="0.7"/>
<text x="307.55" y="274.66" font-size="5.1" text-anchor="end" fill="#222" stroke="#222" stroke-width="0.2"><tspan>0.1</tspan></text>
<line x1="307.9" y1="260.66" x2="309.5" y2="260.66" stroke="#333" stroke-width="0.7"/>
<text x="307.55" y="262.5" font-size="5.1" text-anchor="end" fill="#222" stroke="#222" stroke-width="0.2"><tspan>1</tspan></text>
<line x1="307.9" y1="248.5" x2="309.5" y2="248.5" stroke="#333" stroke-width="0.7"/>
<text x="307.55" y="250.34" font-size="5.1" text-anchor="end" fill="#222" stroke="#222" stroke-width="0.2"><tspan>10</tspan></text>
<line x1="308.4" y1="305.64" x2="309.5" y2="305.64" stroke="#333" stroke-width="0.5"/>
<line x1="308.4" y1="303.5" x2="309.5" y2="303.5" stroke="#333" stroke-width="0.5"/>
<line x1="308.4" y1="301.98" x2="309.5" y2="301.98" stroke="#333" stroke-width="0.5"/>
<line x1="308.4" y1="300.8" x2="309.5" y2="300.8" stroke="#333" stroke-width="0.5"/>
<line x1="308.4" y1="299.84" x2="309.5" y2="299.84" stroke="#333" stroke-width="0.5"/>
<line x1="308.4" y1="299.02" x2="309.5" y2="299.02" stroke="#333" stroke-width="0.5"/>
<line x1="308.4" y1="298.32" x2="309.5" y2="298.32" stroke="#333" stroke-width="0.5"/>
<line x1="308.4" y1="297.7" x2="309.5" y2="297.7" stroke="#333" stroke-width="0.5"/>
<line x1="308.4" y1="293.48" x2="309.5" y2="293.48" stroke="#333" stroke-width="0.5"/>
<line x1="308.4" y1="291.34" x2="309.5" y2="291.34" stroke="#333" stroke-width="0.5"/>
<line x1="308.4" y1="289.82" x2="309.5" y2="289.82" stroke="#333" stroke-width="0.5"/>
<line x1="308.4" y1="288.64" x2="309.5" y2="288.64" stroke="#333" stroke-width="0.5"/>
<line x1="308.4" y1="287.68" x2="309.5" y2="287.68" stroke="#333" stroke-width="0.5"/>
<line x1="308.4" y1="286.86" x2="309.5" y2="286.86" stroke="#333" stroke-width="0.5"/>
<line x1="308.4" y1="286.16" x2="309.5" y2="286.16" stroke="#333" stroke-width="0.5"/>
<line x1="308.4" y1="285.54" x2="309.5" y2="285.54" stroke="#333" stroke-width="0.5"/>
<line x1="308.4" y1="281.32" x2="309.5" y2="281.32" stroke="#333" stroke-width="0.5"/>
<line x1="308.4" y1="279.18" x2="309.5" y2="279.18" stroke="#333" stroke-width="0.5"/>
<line x1="308.4" y1="277.66" x2="309.5" y2="277.66" stroke="#333" stroke-width="0.5"/>
<line x1="308.4" y1="276.48" x2="309.5" y2="276.48" stroke="#333" stroke-width="0.5"/>
<line x1="308.4" y1="275.52" x2="309.5" y2="275.52" stroke="#333" stroke-width="0.5"/>
<line x1="308.4" y1="274.7" x2="309.5" y2="274.7" stroke="#333" stroke-width="0.5"/>
<line x1="308.4" y1="274" x2="309.5" y2="274" stroke="#333" stroke-width="0.5"/>
<line x1="308.4" y1="273.38" x2="309.5" y2="273.38" stroke="#333" stroke-width="0.5"/>
<line x1="308.4" y1="269.16" x2="309.5" y2="269.16" stroke="#333" stroke-width="0.5"/>
<line x1="308.4" y1="267.02" x2="309.5" y2="267.02" stroke="#333" stroke-width="0.5"/>
<line x1="308.4" y1="265.5" x2="309.5" y2="265.5" stroke="#333" stroke-width="0.5"/>
<line x1="308.4" y1="264.32" x2="309.5" y2="264.32" stroke="#333" stroke-width="0.5"/>
<line x1="308.4" y1="263.36" x2="309.5" y2="263.36" stroke="#333" stroke-width="0.5"/>
<line x1="308.4" y1="262.54" x2="309.5" y2="262.54" stroke="#333" stroke-width="0.5"/>
<line x1="308.4" y1="261.84" x2="309.5" y2="261.84" stroke="#333" stroke-width="0.5"/>
<line x1="308.4" y1="261.22" x2="309.5" y2="261.22" stroke="#333" stroke-width="0.5"/>
<line x1="308.4" y1="257" x2="309.5" y2="257" stroke="#333" stroke-width="0.5"/>
<line x1="308.4" y1="254.86" x2="309.5" y2="254.86" stroke="#333" stroke-width="0.5"/>
<line x1="308.4" y1="253.34" x2="309.5" y2="253.34" stroke="#333" stroke-width="0.5"/>
<line x1="308.4" y1="252.16" x2="309.5" y2="252.16" stroke="#333" stroke-width="0.5"/>
<line x1="308.4" y1="251.2" x2="309.5" y2="251.2" stroke="#333" stroke-width="0.5"/>
<line x1="308.4" y1="250.38" x2="309.5" y2="250.38" stroke="#333" stroke-width="0.5"/>
<line x1="308.4" y1="249.68" x2="309.5" y2="249.68" stroke="#333" stroke-width="0.5"/>
<line x1="308.4" y1="249.06" x2="309.5" y2="249.06" stroke="#333" stroke-width="0.5"/>
<line x1="309.1" y1="309.5" x2="493.8" y2="309.5" stroke="#333" stroke-width="1"/>
<line x1="325.4" y1="309.5" x2="325.4" y2="311.1" stroke="#333" stroke-width="0.7"/>
<line x1="356" y1="309.5" x2="356" y2="311.1" stroke="#333" stroke-width="0.7"/>
<line x1="386.3" y1="309.5" x2="386.3" y2="311.1" stroke="#333" stroke-width="0.7"/>
<line x1="416.6" y1="309.5" x2="416.6" y2="311.1" stroke="#333" stroke-width="0.7"/>
<line x1="447.6" y1="309.5" x2="447.6" y2="311.1" stroke="#333" stroke-width="0.7"/>
<line x1="478" y1="309.5" x2="478" y2="311.1" stroke="#333" stroke-width="0.7"/>
<text x="333.7" y="239.9" font-size="6.4" text-anchor="middle" fill="#111" stroke="#111" stroke-width="0.2"><tspan font-style="italic">P</tspan><tspan> =0.005</tspan></text>
<line x1="317.6" y1="241.2" x2="352" y2="241.2" stroke="#333" stroke-width="1"/>
<text x="396" y="239.2" font-size="6.4" text-anchor="middle" fill="#111" stroke="#111" stroke-width="0.2"><tspan font-style="italic">P</tspan><tspan> =0.001</tspan></text>
<line x1="382.1" y1="241.4" x2="415.7" y2="241.4" stroke="#333" stroke-width="1"/>
<text x="456.8" y="239.8" font-size="6.4" text-anchor="middle" fill="#111" stroke="#111" stroke-width="0.2"><tspan font-style="italic">P</tspan><tspan> =0.001</tspan></text>
<line x1="441.1" y1="241.9" x2="474.7" y2="241.9" stroke="#333" stroke-width="1"/>
<circle cx="320.9" cy="254.6" r="1.4" fill="#000"/>
<circle cx="325.2" cy="258.5" r="1.4" fill="#000"/>
<circle cx="321.5" cy="263.8" r="1.4" fill="#000"/>
<circle cx="325.2" cy="264.4" r="1.4" fill="#000"/>
<circle cx="329.7" cy="263.8" r="1.4" fill="#000"/>
<circle cx="333.6" cy="263" r="1.4" fill="#000"/>
<circle cx="320.9" cy="268.8" r="1.4" fill="#000"/>
<circle cx="325.2" cy="269.2" r="1.4" fill="#000"/>
<circle cx="325.2" cy="280.5" r="1.4" fill="#000"/>
<path d="M315.6 263.4L318.6 263.4L317.1 266Z" fill="#000"/>
<line x1="315.1" y1="264.4" x2="334.6" y2="264.4" stroke="#555" stroke-width="0.9"/>
<text x="324.8" y="289.1" font-size="6.4" text-anchor="middle" fill="#111" stroke="#111" stroke-width="0.2"><tspan>0.42</tspan></text>
<circle cx="355.7" cy="259.6" r="1.55" fill="#fff" stroke="#000" stroke-width="0.85"/>
<circle cx="355.7" cy="266.2" r="1.55" fill="#fff" stroke="#000" stroke-width="0.85"/>
<circle cx="360" cy="265.3" r="1.55" fill="#fff" stroke="#000" stroke-width="0.85"/>
<circle cx="360" cy="267.8" r="1.55" fill="#fff" stroke="#000" stroke-width="0.85"/>
<circle cx="351.8" cy="271.1" r="1.55" fill="#fff" stroke="#000" stroke-width="0.85"/>
<circle cx="356.1" cy="272.3" r="1.55" fill="#fff" stroke="#000" stroke-width="0.85"/>
<circle cx="360" cy="271.1" r="1.55" fill="#fff" stroke="#000" stroke-width="0.85"/>
<circle cx="348.3" cy="278.5" r="1.55" fill="#fff" stroke="#000" stroke-width="0.85"/>
<circle cx="351.8" cy="278.5" r="1.55" fill="#fff" stroke="#000" stroke-width="0.85"/>
<circle cx="356.1" cy="278.5" r="1.55" fill="#fff" stroke="#000" stroke-width="0.85"/>
<circle cx="348.3" cy="280.9" r="1.55" fill="#fff" stroke="#000" stroke-width="0.85"/>
<circle cx="351.8" cy="280.9" r="1.55" fill="#fff" stroke="#000" stroke-width="0.85"/>
<circle cx="356.1" cy="280.9" r="1.55" fill="#fff" stroke="#000" stroke-width="0.85"/>
<circle cx="360" cy="280.9" r="1.55" fill="#fff" stroke="#000" stroke-width="0.85"/>
<circle cx="351.8" cy="283.4" r="1.55" fill="#fff" stroke="#000" stroke-width="0.85"/>
<circle cx="356.1" cy="283.4" r="1.55" fill="#fff" stroke="#000" stroke-width="0.85"/>
<circle cx="360" cy="283.4" r="1.55" fill="#fff" stroke="#000" stroke-width="0.85"/>
<circle cx="356.1" cy="288.7" r="1.55" fill="#fff" stroke="#000" stroke-width="0.85"/>
<circle cx="360" cy="286.7" r="1.55" fill="#fff" stroke="#000" stroke-width="0.85"/>
<line x1="345.4" y1="278.5" x2="366.4" y2="278.5" stroke="#555" stroke-width="0.9"/>
<text x="356.1" y="297.4" font-size="6.4" text-anchor="middle" fill="#111" stroke="#111" stroke-width="0.2"><tspan>0.027</tspan></text>
<path d="M378.1 263.05L379.55 265.66L376.65 265.66Z" fill="#000"/>
<path d="M382.4 263.05L383.85 265.66L380.95 265.66Z" fill="#000"/>
<path d="M386.7 263.05L388.15 265.66L385.25 265.66Z" fill="#000"/>
<path d="M390.6 263.05L392.05 265.66L389.15 265.66Z" fill="#000"/>
<path d="M378.1 261.55L379.55 264.16L376.65 264.16Z" fill="#000"/>
<path d="M386.7 269.65L388.15 272.26L385.25 272.26Z" fill="#000"/>
<path d="M378.1 274.15L379.55 276.76L376.65 276.76Z" fill="#000"/>
<path d="M382.4 274.15L383.85 276.76L380.95 276.76Z" fill="#000"/>
<path d="M386.7 274.15L388.15 276.76L385.25 276.76Z" fill="#000"/>
<path d="M386.7 280.05L388.15 282.66L385.25 282.66Z" fill="#000"/>
<path d="M390.6 273.05L392.05 275.66L389.15 275.66Z" fill="#000"/>
<line x1="376.2" y1="271.1" x2="396.1" y2="271.1" stroke="#555" stroke-width="0.9"/>
<text x="386.3" y="290.6" font-size="6.4" text-anchor="middle" fill="#111" stroke="#111" stroke-width="0.2"><tspan>0.11</tspan></text>
<path d="M416.8 265.85L418.55 269L415.05 269Z" fill="#000"/>
<path d="M416.8 271.95L418.55 275.1L415.05 275.1Z" fill="#000"/>
<path d="M412.9 276.85L414.65 280L411.15 280Z" fill="#000"/>
<path d="M416.8 276.85L418.55 280L415.05 280Z" fill="#000"/>
<path d="M408.5 279.65L410.25 282.8L406.75 282.8Z" fill="#000"/>
<path d="M412.9 279.65L414.65 282.8L411.15 282.8Z" fill="#000"/>
<path d="M416.8 279.65L418.55 282.8L415.05 282.8Z" fill="#000"/>
<path d="M421 279.65L422.75 282.8L419.25 282.8Z" fill="#000"/>
<path d="M424.9 279.65L426.65 282.8L423.15 282.8Z" fill="#000"/>
<path d="M416.8 282.95L418.55 286.1L415.05 286.1Z" fill="#000"/>
<path d="M416.8 281.85L418.55 285L415.05 285Z" fill="#000"/>
<path d="M412.9 290.65L414.65 293.8L411.15 293.8Z" fill="#000"/>
<path d="M416.8 290.65L418.55 293.8L415.05 293.8Z" fill="#000"/>
<path d="M416.8 296.65L418.55 299.8L415.05 299.8Z" fill="#000"/>
<line x1="406.9" y1="281.4" x2="426.7" y2="281.4" stroke="#555" stroke-width="0.9"/>
<text x="416.8" y="260.7" font-size="6.4" text-anchor="middle" fill="#111" stroke="#111" stroke-width="0.2"><tspan>0.014</tspan></text>
<circle cx="447.7" cy="266.9" r="1.4" fill="#000"/>
<circle cx="443.4" cy="275.7" r="1.4" fill="#000"/>
<circle cx="447.7" cy="275.7" r="1.4" fill="#000"/>
<circle cx="451.5" cy="273.8" r="1.4" fill="#000"/>
<circle cx="451.5" cy="284.3" r="1.4" fill="#000"/>
<circle cx="447.7" cy="287.4" r="1.4" fill="#000"/>
<line x1="437.2" y1="275.7" x2="458.2" y2="275.7" stroke="#555" stroke-width="0.9"/>
<text x="448" y="260.7" font-size="6.4" text-anchor="middle" fill="#111" stroke="#111" stroke-width="0.2"><tspan>0.051</tspan></text>
<path d="M470 279.85L471.65 281.5L470 283.15L468.35 281.5Z" fill="#fff" stroke="#000" stroke-width="0.9"/>
<path d="M480.3 279.55L481.95 281.2L480.3 282.85L478.65 281.2Z" fill="#fff" stroke="#000" stroke-width="0.9"/>
<path d="M474.2 282.65L475.85 284.3L474.2 285.95L472.55 284.3Z" fill="#fff" stroke="#000" stroke-width="0.9"/>
<path d="M478.2 283.25L479.85 284.9L478.2 286.55L476.55 284.9Z" fill="#fff" stroke="#000" stroke-width="0.9"/>
<path d="M482.3 282.15L483.95 283.8L482.3 285.45L480.65 283.8Z" fill="#fff" stroke="#000" stroke-width="0.9"/>
<path d="M486.5 282.65L488.15 284.3L486.5 285.95L484.85 284.3Z" fill="#fff" stroke="#000" stroke-width="0.9"/>
<path d="M470 286.55L471.65 288.2L470 289.85L468.35 288.2Z" fill="#fff" stroke="#000" stroke-width="0.9"/>
<path d="M474.2 286.55L475.85 288.2L474.2 289.85L472.55 288.2Z" fill="#fff" stroke="#000" stroke-width="0.9"/>
<path d="M478.2 286.55L479.85 288.2L478.2 289.85L476.55 288.2Z" fill="#fff" stroke="#000" stroke-width="0.9"/>
<path d="M482.3 286.55L483.95 288.2L482.3 289.85L480.65 288.2Z" fill="#fff" stroke="#000" stroke-width="0.9"/>
<path d="M486.5 286.55L488.15 288.2L486.5 289.85L484.85 288.2Z" fill="#fff" stroke="#000" stroke-width="0.9"/>
<path d="M474.2 288.85L475.85 290.5L474.2 292.15L472.55 290.5Z" fill="#fff" stroke="#000" stroke-width="0.9"/>
<path d="M478.2 288.85L479.85 290.5L478.2 292.15L476.55 290.5Z" fill="#fff" stroke="#000" stroke-width="0.9"/>
<path d="M474.2 290.95L475.85 292.6L474.2 294.25L472.55 292.6Z" fill="#fff" stroke="#000" stroke-width="0.9"/>
<path d="M482.3 290.95L483.95 292.6L482.3 294.25L480.65 292.6Z" fill="#fff" stroke="#000" stroke-width="0.9"/>
<path d="M478.2 294.95L479.85 296.6L478.2 298.25L476.55 296.6Z" fill="#fff" stroke="#000" stroke-width="0.9"/>
<path d="M474.2 297.15L475.85 298.8L474.2 300.45L472.55 298.8Z" fill="#fff" stroke="#000" stroke-width="0.9"/>
<path d="M478.2 299.15L479.85 300.8L478.2 302.45L476.55 300.8Z" fill="#fff" stroke="#000" stroke-width="0.9"/>
<path d="M478.2 304.15L479.85 305.8L478.2 307.45L476.55 305.8Z" fill="#fff" stroke="#000" stroke-width="0.9"/>
<path d="M482.3 301.85L483.95 303.5L482.3 305.15L480.65 303.5Z" fill="#fff" stroke="#000" stroke-width="0.9"/>
<line x1="468.5" y1="288.9" x2="484.6" y2="288.9" stroke="#555" stroke-width="0.9"/>
<text x="477.4" y="275" font-size="6.4" text-anchor="middle" fill="#111" stroke="#111" stroke-width="0.2"><tspan>0.004</tspan></text>
<line x1="309.5" y1="326.3" x2="309.5" y2="386" stroke="#333" stroke-width="1"/>
<line x1="307.9" y1="385.7" x2="309.5" y2="385.7" stroke="#333" stroke-width="0.7"/>
<text x="307.55" y="387.54" font-size="5.1" text-anchor="end" fill="#222" stroke="#222" stroke-width="0.2"><tspan>1</tspan></text>
<line x1="307.9" y1="373.84" x2="309.5" y2="373.84" stroke="#333" stroke-width="0.7"/>
<text x="307.55" y="375.68" font-size="5.1" text-anchor="end" fill="#222" stroke="#222" stroke-width="0.2"><tspan>10</tspan></text>
<line x1="307.9" y1="361.98" x2="309.5" y2="361.98" stroke="#333" stroke-width="0.7"/>
<text x="307.55" y="363.82" font-size="5.1" text-anchor="end" fill="#222" stroke="#222" stroke-width="0.2"><tspan>100</tspan></text>
<line x1="307.9" y1="350.12" x2="309.5" y2="350.12" stroke="#333" stroke-width="0.7"/>
<text x="307.55" y="351.96" font-size="5.1" text-anchor="end" fill="#222" stroke="#222" stroke-width="0.2"><tspan>1000</tspan></text>
<line x1="307.9" y1="338.26" x2="309.5" y2="338.26" stroke="#333" stroke-width="0.7"/>
<text x="307.55" y="340.1" font-size="5.1" text-anchor="end" fill="#222" stroke="#222" stroke-width="0.2"><tspan>10000</tspan></text>
<line x1="307.9" y1="326.4" x2="309.5" y2="326.4" stroke="#333" stroke-width="0.7"/>
<text x="307.55" y="328.24" font-size="5.1" text-anchor="end" fill="#222" stroke="#222" stroke-width="0.2"><tspan>100000</tspan></text>
<line x1="308.4" y1="382.13" x2="309.5" y2="382.13" stroke="#333" stroke-width="0.5"/>
<line x1="308.4" y1="380.04" x2="309.5" y2="380.04" stroke="#333" stroke-width="0.5"/>
<line x1="308.4" y1="378.56" x2="309.5" y2="378.56" stroke="#333" stroke-width="0.5"/>
<line x1="308.4" y1="377.41" x2="309.5" y2="377.41" stroke="#333" stroke-width="0.5"/>
<line x1="308.4" y1="376.47" x2="309.5" y2="376.47" stroke="#333" stroke-width="0.5"/>
<line x1="308.4" y1="375.68" x2="309.5" y2="375.68" stroke="#333" stroke-width="0.5"/>
<line x1="308.4" y1="374.99" x2="309.5" y2="374.99" stroke="#333" stroke-width="0.5"/>
<line x1="308.4" y1="374.38" x2="309.5" y2="374.38" stroke="#333" stroke-width="0.5"/>
<line x1="308.4" y1="370.27" x2="309.5" y2="370.27" stroke="#333" stroke-width="0.5"/>
<line x1="308.4" y1="368.18" x2="309.5" y2="368.18" stroke="#333" stroke-width="0.5"/>
<line x1="308.4" y1="366.7" x2="309.5" y2="366.7" stroke="#333" stroke-width="0.5"/>
<line x1="308.4" y1="365.55" x2="309.5" y2="365.55" stroke="#333" stroke-width="0.5"/>
<line x1="308.4" y1="364.61" x2="309.5" y2="364.61" stroke="#333" stroke-width="0.5"/>
<line x1="308.4" y1="363.82" x2="309.5" y2="363.82" stroke="#333" stroke-width="0.5"/>
<line x1="308.4" y1="363.13" x2="309.5" y2="363.13" stroke="#333" stroke-width="0.5"/>
<line x1="308.4" y1="362.52" x2="309.5" y2="362.52" stroke="#333" stroke-width="0.5"/>
<line x1="308.4" y1="358.41" x2="309.5" y2="358.41" stroke="#333" stroke-width="0.5"/>
<line x1="308.4" y1="356.32" x2="309.5" y2="356.32" stroke="#333" stroke-width="0.5"/>
<line x1="308.4" y1="354.84" x2="309.5" y2="354.84" stroke="#333" stroke-width="0.5"/>
<line x1="308.4" y1="353.69" x2="309.5" y2="353.69" stroke="#333" stroke-width="0.5"/>
<line x1="308.4" y1="352.75" x2="309.5" y2="352.75" stroke="#333" stroke-width="0.5"/>
<line x1="308.4" y1="351.96" x2="309.5" y2="351.96" stroke="#333" stroke-width="0.5"/>
<line x1="308.4" y1="351.27" x2="309.5" y2="351.27" stroke="#333" stroke-width="0.5"/>
<line x1="308.4" y1="350.66" x2="309.5" y2="350.66" stroke="#333" stroke-width="0.5"/>
<line x1="308.4" y1="346.55" x2="309.5" y2="346.55" stroke="#333" stroke-width="0.5"/>
<line x1="308.4" y1="344.46" x2="309.5" y2="344.46" stroke="#333" stroke-width="0.5"/>
<line x1="308.4" y1="342.98" x2="309.5" y2="342.98" stroke="#333" stroke-width="0.5"/>
<line x1="308.4" y1="341.83" x2="309.5" y2="341.83" stroke="#333" stroke-width="0.5"/>
<line x1="308.4" y1="340.89" x2="309.5" y2="340.89" stroke="#333" stroke-width="0.5"/>
<line x1="308.4" y1="340.1" x2="309.5" y2="340.1" stroke="#333" stroke-width="0.5"/>
<line x1="308.4" y1="339.41" x2="309.5" y2="339.41" stroke="#333" stroke-width="0.5"/>
<line x1="308.4" y1="338.8" x2="309.5" y2="338.8" stroke="#333" stroke-width="0.5"/>
<line x1="308.4" y1="334.69" x2="309.5" y2="334.69" stroke="#333" stroke-width="0.5"/>
<line x1="308.4" y1="332.6" x2="309.5" y2="332.6" stroke="#333" stroke-width="0.5"/>
<line x1="308.4" y1="331.12" x2="309.5" y2="331.12" stroke="#333" stroke-width="0.5"/>
<line x1="308.4" y1="329.97" x2="309.5" y2="329.97" stroke="#333" stroke-width="0.5"/>
<line x1="308.4" y1="329.03" x2="309.5" y2="329.03" stroke="#333" stroke-width="0.5"/>
<line x1="308.4" y1="328.24" x2="309.5" y2="328.24" stroke="#333" stroke-width="0.5"/>
<line x1="308.4" y1="327.55" x2="309.5" y2="327.55" stroke="#333" stroke-width="0.5"/>
<line x1="308.4" y1="326.94" x2="309.5" y2="326.94" stroke="#333" stroke-width="0.5"/>
<line x1="309.1" y1="385.5" x2="491.8" y2="385.5" stroke="#333" stroke-width="1"/>
<line x1="325.4" y1="385.5" x2="325.4" y2="387.1" stroke="#333" stroke-width="0.7"/>
<line x1="356" y1="385.5" x2="356" y2="387.1" stroke="#333" stroke-width="0.7"/>
<line x1="386.3" y1="385.5" x2="386.3" y2="387.1" stroke="#333" stroke-width="0.7"/>
<line x1="416.6" y1="385.5" x2="416.6" y2="387.1" stroke="#333" stroke-width="0.7"/>
<line x1="447.6" y1="385.5" x2="447.6" y2="387.1" stroke="#333" stroke-width="0.7"/>
<line x1="478" y1="385.5" x2="478" y2="387.1" stroke="#333" stroke-width="0.7"/>
<text x="460.2" y="320.3" font-size="6.4" text-anchor="middle" fill="#111" stroke="#111" stroke-width="0.2"><tspan font-style="italic">P</tspan><tspan> =0.004</tspan></text>
<line x1="443.6" y1="322.3" x2="477.6" y2="322.3" stroke="#333" stroke-width="1"/>
<circle cx="321.5" cy="352.3" r="1.4" fill="#000"/>
<circle cx="325.4" cy="353.1" r="1.4" fill="#000"/>
<circle cx="321.5" cy="359.2" r="1.4" fill="#000"/>
<circle cx="325.4" cy="359.2" r="1.4" fill="#000"/>
<circle cx="329.2" cy="359.2" r="1.4" fill="#000"/>
<circle cx="333.1" cy="358.5" r="1.4" fill="#000"/>
<circle cx="321.5" cy="363.1" r="1.4" fill="#000"/>
<circle cx="325.4" cy="363.1" r="1.4" fill="#000"/>
<circle cx="329.2" cy="363.1" r="1.4" fill="#000"/>
<circle cx="325.4" cy="367.7" r="1.4" fill="#000"/>
<line x1="315.4" y1="360" x2="335.4" y2="360" stroke="#555" stroke-width="0.9"/>
<text x="325.8" y="348.5" font-size="6.4" text-anchor="middle" fill="#111" stroke="#111" stroke-width="0.2"><tspan>164</tspan></text>
<circle cx="355.7" cy="338.9" r="1.55" fill="#fff" stroke="#000" stroke-width="0.85"/>
<circle cx="359.2" cy="336.9" r="1.55" fill="#fff" stroke="#000" stroke-width="0.85"/>
<circle cx="352" cy="354.3" r="1.55" fill="#fff" stroke="#000" stroke-width="0.85"/>
<circle cx="355.7" cy="352.3" r="1.55" fill="#fff" stroke="#000" stroke-width="0.85"/>
<circle cx="363.4" cy="354.3" r="1.55" fill="#fff" stroke="#000" stroke-width="0.85"/>
<circle cx="355.7" cy="356.9" r="1.55" fill="#fff" stroke="#000" stroke-width="0.85"/>
<circle cx="359.2" cy="356.9" r="1.55" fill="#fff" stroke="#000" stroke-width="0.85"/>
<circle cx="352" cy="360.5" r="1.55" fill="#fff" stroke="#000" stroke-width="0.85"/>
<circle cx="355.7" cy="360.5" r="1.55" fill="#fff" stroke="#000" stroke-width="0.85"/>
<circle cx="359.2" cy="360.5" r="1.55" fill="#fff" stroke="#000" stroke-width="0.85"/>
<circle cx="352" cy="365.7" r="1.55" fill="#fff" stroke="#000" stroke-width="0.85"/>
<circle cx="355.7" cy="365.7" r="1.55" fill="#fff" stroke="#000" stroke-width="0.85"/>
<circle cx="359.2" cy="365.7" r="1.55" fill="#fff" stroke="#000" stroke-width="0.85"/>
<line x1="345.4" y1="357.4" x2="365.8" y2="357.4" stroke="#555" stroke-width="0.9"/>
<text x="358.2" y="331.3" font-size="6.4" text-anchor="middle" fill="#111" stroke="#111" stroke-width="0.2"><tspan>279</tspan></text>
<path d="M385.8 346.85L387.25 349.46L384.35 349.46Z" fill="#000"/>
<path d="M380.9 356.95L382.35 359.56L379.45 359.56Z" fill="#000"/>
<path d="M391.7 355.65L393.15 358.26L390.25 358.26Z" fill="#000"/>
<path d="M385.8 359.65L387.25 362.26L384.35 362.26Z" fill="#000"/>
<path d="M377.7 363.65L379.15 366.26L376.25 366.26Z" fill="#000"/>
<path d="M382.3 363.65L383.75 366.26L380.85 366.26Z" fill="#000"/>
<path d="M387.6 363.65L389.05 366.26L386.15 366.26Z" fill="#000"/>
<path d="M394.3 363.65L395.75 366.26L392.85 366.26Z" fill="#000"/>
<path d="M385.8 369.55L387.25 372.16L384.35 372.16Z" fill="#000"/>
<path d="M385.8 376.25L387.25 378.86L384.35 378.86Z" fill="#000"/>
<line x1="375.6" y1="363.5" x2="396.5" y2="363.5" stroke="#555" stroke-width="0.9"/>
<text x="385.8" y="343.1" font-size="6.4" text-anchor="middle" fill="#111" stroke="#111" stroke-width="0.2"><tspan>77</tspan></text>
<path d="M419.8 342.45L421.55 345.6L418.05 345.6Z" fill="#000"/>
<path d="M415.8 346.55L417.55 349.7L414.05 349.7Z" fill="#000"/>
<path d="M410.4 348.65L412.15 351.8L408.65 351.8Z" fill="#000"/>
<path d="M420.6 345.95L422.35 349.1L418.85 349.1Z" fill="#000"/>
<path d="M410.4 351.85L412.15 355L408.65 355Z" fill="#000"/>
<path d="M415.8 351.85L417.55 355L414.05 355Z" fill="#000"/>
<path d="M410.4 355.35L412.15 358.5L408.65 358.5Z" fill="#000"/>
<path d="M415.8 355.35L417.55 358.5L414.05 358.5Z" fill="#000"/>
<path d="M421.2 355.35L422.95 358.5L419.45 358.5Z" fill="#000"/>
<path d="M415.8 359.95L417.55 363.1L414.05 363.1Z" fill="#000"/>
<path d="M410.4 364.75L412.15 367.9L408.65 367.9Z" fill="#000"/>
<path d="M415.8 364.75L417.55 367.9L414.05 367.9Z" fill="#000"/>
<path d="M421.2 364.75L422.95 367.9L419.45 367.9Z" fill="#000"/>
<line x1="405.6" y1="357.6" x2="426.5" y2="357.6" stroke="#555" stroke-width="0.9"/>
<text x="417.4" y="339.6" font-size="6.4" text-anchor="middle" fill="#111" stroke="#111" stroke-width="0.2"><tspan>227</tspan></text>
<circle cx="441.4" cy="359.5" r="1.4" fill="#000"/>
<circle cx="447.6" cy="360.3" r="1.4" fill="#000"/>
<circle cx="446.3" cy="364.3" r="1.4" fill="#000"/>
<circle cx="450.8" cy="367.8" r="1.4" fill="#000"/>
<circle cx="446.3" cy="371.8" r="1.4" fill="#000"/>
<line x1="436.1" y1="363.5" x2="457" y2="363.5" stroke="#555" stroke-width="0.9"/>
<text x="446.3" y="355.9" font-size="6.4" text-anchor="middle" fill="#111" stroke="#111" stroke-width="0.2"><tspan>82</tspan></text>
<path d="M480.3 340.45L481.95 342.1L480.3 343.75L478.65 342.1Z" fill="#fff" stroke="#000" stroke-width="0.9"/>
<path d="M476.3 342.55L477.95 344.2L476.3 345.85L474.65 344.2Z" fill="#fff" stroke="#000" stroke-width="0.9"/>
<path d="M468.3 346.05L469.95 347.7L468.3 349.35L466.65 347.7Z" fill="#fff" stroke="#000" stroke-width="0.9"/>
<path d="M484.3 346.05L485.95 347.7L484.3 349.35L482.65 347.7Z" fill="#fff" stroke="#000" stroke-width="0.9"/>
<path d="M472.3 348.25L473.95 349.9L472.3 351.55L470.65 349.9Z" fill="#fff" stroke="#000" stroke-width="0.9"/>
<path d="M476.3 348.25L477.95 349.9L476.3 351.55L474.65 349.9Z" fill="#fff" stroke="#000" stroke-width="0.9"/>
<path d="M480.3 348.25L481.95 349.9L480.3 351.55L478.65 349.9Z" fill="#fff" stroke="#000" stroke-width="0.9"/>
<path d="M468.3 351.95L469.95 353.6L468.3 355.25L466.65 353.6Z" fill="#fff" stroke="#000" stroke-width="0.9"/>
<path d="M472.3 351.95L473.95 353.6L472.3 355.25L470.65 353.6Z" fill="#fff" stroke="#000" stroke-width="0.9"/>
<path d="M484.3 351.95L485.95 353.6L484.3 355.25L482.65 353.6Z" fill="#fff" stroke="#000" stroke-width="0.9"/>
<path d="M476.3 354.15L477.95 355.8L476.3 357.45L474.65 355.8Z" fill="#fff" stroke="#000" stroke-width="0.9"/>
<path d="M472.3 356.75L473.95 358.4L472.3 360.05L470.65 358.4Z" fill="#fff" stroke="#000" stroke-width="0.9"/>
<path d="M480.3 356.75L481.95 358.4L480.3 360.05L478.65 358.4Z" fill="#fff" stroke="#000" stroke-width="0.9"/>
<path d="M472.3 364.85L473.95 366.5L472.3 368.15L470.65 366.5Z" fill="#fff" stroke="#000" stroke-width="0.9"/>
<path d="M476.3 364.85L477.95 366.5L476.3 368.15L474.65 366.5Z" fill="#fff" stroke="#000" stroke-width="0.9"/>
<path d="M480.3 364.85L481.95 366.5L480.3 368.15L478.65 366.5Z" fill="#fff" stroke="#000" stroke-width="0.9"/>
<circle cx="480.3" cy="355.8" r="1.2" fill="#000"/>
<line x1="465.6" y1="355.2" x2="487" y2="355.2" stroke="#555" stroke-width="0.9"/>
<text x="479" y="336.6" font-size="6.4" text-anchor="middle" fill="#111" stroke="#111" stroke-width="0.2"><tspan>514</tspan></text>
<text x="325.3" y="394.24" font-size="7.6" text-anchor="middle" fill="#111" stroke="#111" stroke-width="0.2"><tspan>NR</tspan></text>
<text x="324.5" y="401.68" font-size="6.6" text-anchor="middle" fill="#111" stroke="#111" stroke-width="0.2"><tspan>(</tspan><tspan font-style="italic">n</tspan><tspan> =11)</tspan></text>
<text x="356.8" y="394.24" font-size="7.6" text-anchor="middle" fill="#111" stroke="#111" stroke-width="0.2"><tspan>R</tspan></text>
<text x="356" y="401.68" font-size="6.6" text-anchor="middle" fill="#111" stroke="#111" stroke-width="0.2"><tspan>(</tspan><tspan font-style="italic">n</tspan><tspan> =13)</tspan></text>
<text x="386.6" y="394.24" font-size="7.6" text-anchor="middle" fill="#111" stroke="#111" stroke-width="0.2"><tspan>NR</tspan></text>
<text x="385.8" y="401.68" font-size="6.6" text-anchor="middle" fill="#111" stroke="#111" stroke-width="0.2"><tspan>(</tspan><tspan font-style="italic">n</tspan><tspan> =10)</tspan></text>
<text x="416.6" y="394.24" font-size="7.6" text-anchor="middle" fill="#111" stroke="#111" stroke-width="0.2"><tspan>R</tspan></text>
<text x="415.8" y="401.68" font-size="6.6" text-anchor="middle" fill="#111" stroke="#111" stroke-width="0.2"><tspan>(</tspan><tspan font-style="italic">n</tspan><tspan> =12)</tspan></text>
<text x="447.1" y="394.24" font-size="7.6" text-anchor="middle" fill="#111" stroke="#111" stroke-width="0.2"><tspan>NR</tspan></text>
<text x="446.8" y="401.68" font-size="6.6" text-anchor="middle" fill="#111" stroke="#111" stroke-width="0.2"><tspan>(</tspan><tspan font-style="italic">n</tspan><tspan> =6)</tspan></text>
<text x="477.1" y="394.24" font-size="7.6" text-anchor="middle" fill="#111" stroke="#111" stroke-width="0.2"><tspan>R</tspan></text>
<text x="479" y="401.68" font-size="6.6" text-anchor="middle" fill="#111" stroke="#111" stroke-width="0.2"><tspan>(</tspan><tspan font-style="italic">n</tspan><tspan> =18)</tspan></text>
</svg>
</body></html>
